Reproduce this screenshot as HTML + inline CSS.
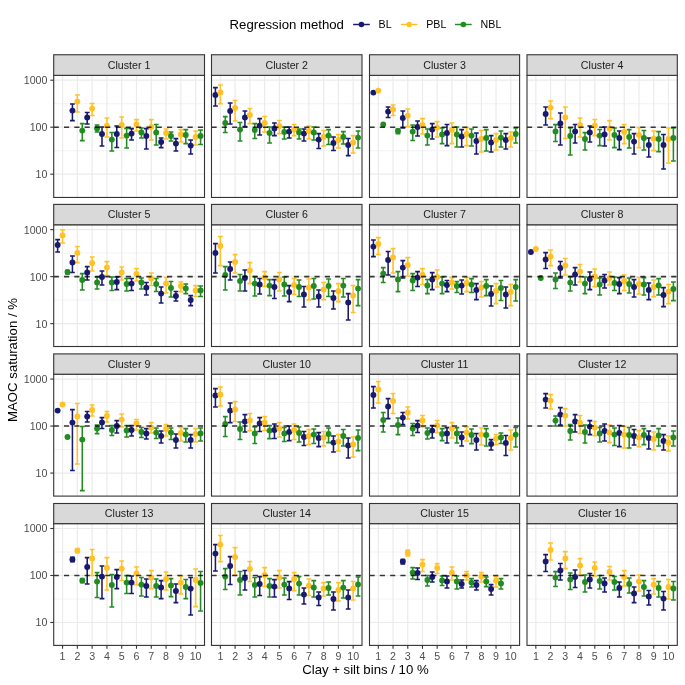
<!DOCTYPE html>
<html><head><meta charset="utf-8"><title>MAOC saturation</title>
<style>html,body{margin:0;padding:0;background:#fff;width:685px;height:685px;overflow:hidden}svg{display:block;will-change:transform}</style>
</head><body>
<svg width="685" height="685" viewBox="0 0 685 685" font-family="Liberation Sans, sans-serif">
<rect width="685" height="685" fill="#ffffff"/>
<line x1="53.7" x2="204.5" y1="150.7" y2="150.7" stroke="#EBEBEB" stroke-width="0.6"/><line x1="53.7" x2="204.5" y1="103.7" y2="103.7" stroke="#EBEBEB" stroke-width="0.6"/><line x1="53.7" x2="204.5" y1="174.2" y2="174.2" stroke="#EBEBEB" stroke-width="1.2"/><line x1="53.7" x2="204.5" y1="127.2" y2="127.2" stroke="#EBEBEB" stroke-width="1.2"/><line x1="53.7" x2="204.5" y1="80.2" y2="80.2" stroke="#EBEBEB" stroke-width="1.2"/><line x1="62.57" x2="62.57" y1="75.35" y2="197.45" stroke="#EBEBEB" stroke-width="1.2"/><line x1="77.35" x2="77.35" y1="75.35" y2="197.45" stroke="#EBEBEB" stroke-width="1.2"/><line x1="92.14" x2="92.14" y1="75.35" y2="197.45" stroke="#EBEBEB" stroke-width="1.2"/><line x1="106.92" x2="106.92" y1="75.35" y2="197.45" stroke="#EBEBEB" stroke-width="1.2"/><line x1="121.71" x2="121.71" y1="75.35" y2="197.45" stroke="#EBEBEB" stroke-width="1.2"/><line x1="136.49" x2="136.49" y1="75.35" y2="197.45" stroke="#EBEBEB" stroke-width="1.2"/><line x1="151.28" x2="151.28" y1="75.35" y2="197.45" stroke="#EBEBEB" stroke-width="1.2"/><line x1="166.06" x2="166.06" y1="75.35" y2="197.45" stroke="#EBEBEB" stroke-width="1.2"/><line x1="180.85" x2="180.85" y1="75.35" y2="197.45" stroke="#EBEBEB" stroke-width="1.2"/><line x1="195.63" x2="195.63" y1="75.35" y2="197.45" stroke="#EBEBEB" stroke-width="1.2"/>
<g fill="none" stroke-width="1.55"><path d="M70.02 104H74.82M72.42 104V120.6M70.02 120.6H74.82" stroke="#191970"/><path d="M74.95 95H79.75M77.35 95V112M74.95 112H79.75" stroke="#FFC125"/><path d="M79.88 123.6H84.68M82.28 123.6V140.6M79.88 140.6H84.68" stroke="#228B22"/><path d="M84.81 112.4H89.61M87.21 112.4V124M84.81 124H89.61" stroke="#191970"/><path d="M89.74 103.4H94.54M92.14 103.4V115.4M89.74 115.4H94.54" stroke="#FFC125"/><path d="M94.67 125H99.47M97.07 125V132M94.67 132H99.47" stroke="#228B22"/><path d="M99.59 127H104.39M101.99 127V146M99.59 146H104.39" stroke="#191970"/><path d="M104.52 118H109.32M106.92 118V137M104.52 137H109.32" stroke="#FFC125"/><path d="M109.45 132.4H114.25M111.85 132.4V151M109.45 151H114.25" stroke="#228B22"/><path d="M114.38 126H119.18M116.78 126V147.4M114.38 147.4H119.18" stroke="#191970"/><path d="M119.31 117H124.11M121.71 117V138M119.31 138H124.11" stroke="#FFC125"/><path d="M124.24 128.4H129.04M126.64 128.4V148M124.24 148H129.04" stroke="#228B22"/><path d="M129.16 128.6H133.96M131.56 128.6V140M129.16 140H133.96" stroke="#191970"/><path d="M134.09 119.6H138.89M136.49 119.6V131M134.09 131H138.89" stroke="#FFC125"/><path d="M139.02 128H143.82M141.42 128V138M139.02 138H143.82" stroke="#228B22"/><path d="M143.95 128.6H148.75M146.35 128.6V149M143.95 149H148.75" stroke="#191970"/><path d="M148.88 119.6H153.68M151.28 119.6V140M148.88 140H153.68" stroke="#FFC125"/><path d="M153.81 124.4H158.61M156.21 124.4V145M153.81 145H158.61" stroke="#228B22"/><path d="M158.73 138H163.53M161.13 138V147.6M158.73 147.6H163.53" stroke="#191970"/><path d="M163.66 129H168.46M166.06 129V139M163.66 139H168.46" stroke="#FFC125"/><path d="M168.59 132H173.39M170.99 132V141M168.59 141H173.39" stroke="#228B22"/><path d="M173.52 138.6H178.32M175.92 138.6V151M173.52 151H178.32" stroke="#191970"/><path d="M178.45 129.6H183.25M180.85 129.6V142M178.45 142H183.25" stroke="#FFC125"/><path d="M183.38 129.6H188.18M185.78 129.6V143.6M183.38 143.6H188.18" stroke="#228B22"/><path d="M188.3 140H193.1M190.7 140V154M188.3 154H193.1" stroke="#191970"/><path d="M193.23 131H198.03M195.63 131V145M193.23 145H198.03" stroke="#FFC125"/><path d="M198.16 130H202.96M200.56 130V144.4M198.16 144.4H202.96" stroke="#228B22"/></g>
<g><circle cx="72.42" cy="110.6" r="2.95" fill="#191970"/><circle cx="77.35" cy="101.6" r="2.95" fill="#FFC125"/><circle cx="82.28" cy="130.6" r="2.95" fill="#228B22"/><circle cx="87.21" cy="117.4" r="2.95" fill="#191970"/><circle cx="92.14" cy="108.6" r="2.95" fill="#FFC125"/><circle cx="97.07" cy="128.4" r="2.95" fill="#228B22"/><circle cx="101.99" cy="134" r="2.95" fill="#191970"/><circle cx="106.92" cy="125.6" r="2.95" fill="#FFC125"/><circle cx="111.85" cy="139.6" r="2.95" fill="#228B22"/><circle cx="116.78" cy="134" r="2.95" fill="#191970"/><circle cx="121.71" cy="125" r="2.95" fill="#FFC125"/><circle cx="126.64" cy="135.6" r="2.95" fill="#228B22"/><circle cx="131.56" cy="133.6" r="2.95" fill="#191970"/><circle cx="136.49" cy="124.4" r="2.95" fill="#FFC125"/><circle cx="141.42" cy="132.4" r="2.95" fill="#228B22"/><circle cx="146.35" cy="136" r="2.95" fill="#191970"/><circle cx="151.28" cy="127" r="2.95" fill="#FFC125"/><circle cx="156.21" cy="132.4" r="2.95" fill="#228B22"/><circle cx="161.13" cy="142" r="2.95" fill="#191970"/><circle cx="166.06" cy="133" r="2.95" fill="#FFC125"/><circle cx="170.99" cy="136" r="2.95" fill="#228B22"/><circle cx="175.92" cy="143.6" r="2.95" fill="#191970"/><circle cx="180.85" cy="134.4" r="2.95" fill="#FFC125"/><circle cx="185.78" cy="135" r="2.95" fill="#228B22"/><circle cx="190.7" cy="145.6" r="2.95" fill="#191970"/><circle cx="195.63" cy="137" r="2.95" fill="#FFC125"/><circle cx="200.56" cy="136" r="2.95" fill="#228B22"/></g>
<line x1="53.7" x2="204.5" y1="127.2" y2="127.2" stroke="#000000" stroke-opacity="0.78" stroke-width="1.55" stroke-dasharray="5.15 5.15"/>
<rect x="53.7" y="75.35" width="150.8" height="122.1" fill="none" stroke="#333333" stroke-width="1.1"/>
<rect x="53.7" y="54.75" width="150.8" height="20.6" fill="#D9D9D9" stroke="#333333" stroke-width="1.1"/>
<text x="129.1" y="68.95" font-size="10.65" fill="#1A1A1A" text-anchor="middle">Cluster 1</text>
<line x1="50.3" x2="53.7" y1="174.2" y2="174.2" stroke="#333333" stroke-width="1.1"/>
<text x="47.4" y="178.2" font-size="10.65" fill="#4D4D4D" text-anchor="end">10</text>
<line x1="50.3" x2="53.7" y1="127.2" y2="127.2" stroke="#333333" stroke-width="1.1"/>
<text x="47.4" y="131.2" font-size="10.65" fill="#4D4D4D" text-anchor="end">100</text>
<line x1="50.3" x2="53.7" y1="80.2" y2="80.2" stroke="#333333" stroke-width="1.1"/>
<text x="47.4" y="84.2" font-size="10.65" fill="#4D4D4D" text-anchor="end">1000</text>
<line x1="211.5" x2="362" y1="150.7" y2="150.7" stroke="#EBEBEB" stroke-width="0.6"/><line x1="211.5" x2="362" y1="103.7" y2="103.7" stroke="#EBEBEB" stroke-width="0.6"/><line x1="211.5" x2="362" y1="174.2" y2="174.2" stroke="#EBEBEB" stroke-width="1.2"/><line x1="211.5" x2="362" y1="127.2" y2="127.2" stroke="#EBEBEB" stroke-width="1.2"/><line x1="211.5" x2="362" y1="80.2" y2="80.2" stroke="#EBEBEB" stroke-width="1.2"/><line x1="220.35" x2="220.35" y1="75.35" y2="197.45" stroke="#EBEBEB" stroke-width="1.2"/><line x1="235.11" x2="235.11" y1="75.35" y2="197.45" stroke="#EBEBEB" stroke-width="1.2"/><line x1="249.86" x2="249.86" y1="75.35" y2="197.45" stroke="#EBEBEB" stroke-width="1.2"/><line x1="264.62" x2="264.62" y1="75.35" y2="197.45" stroke="#EBEBEB" stroke-width="1.2"/><line x1="279.37" x2="279.37" y1="75.35" y2="197.45" stroke="#EBEBEB" stroke-width="1.2"/><line x1="294.13" x2="294.13" y1="75.35" y2="197.45" stroke="#EBEBEB" stroke-width="1.2"/><line x1="308.88" x2="308.88" y1="75.35" y2="197.45" stroke="#EBEBEB" stroke-width="1.2"/><line x1="323.64" x2="323.64" y1="75.35" y2="197.45" stroke="#EBEBEB" stroke-width="1.2"/><line x1="338.39" x2="338.39" y1="75.35" y2="197.45" stroke="#EBEBEB" stroke-width="1.2"/><line x1="353.15" x2="353.15" y1="75.35" y2="197.45" stroke="#EBEBEB" stroke-width="1.2"/>
<g fill="none" stroke-width="1.55"><path d="M213.02 87.6H217.82M215.42 87.6V106M213.02 106H217.82" stroke="#191970"/><path d="M217.95 85H222.75M220.35 85V103.6M217.95 103.6H222.75" stroke="#FFC125"/><path d="M222.88 116.6H227.68M225.28 116.6V132.4M222.88 132.4H227.68" stroke="#228B22"/><path d="M227.78 103H232.58M230.18 103V124M227.78 124H232.58" stroke="#191970"/><path d="M232.71 100.4H237.51M235.11 100.4V121M232.71 121H237.51" stroke="#FFC125"/><path d="M237.64 122.4H242.44M240.04 122.4V141M237.64 141H242.44" stroke="#228B22"/><path d="M242.53 111H247.33M244.93 111V126.4M242.53 126.4H247.33" stroke="#191970"/><path d="M247.46 108.4H252.26M249.86 108.4V123.6M247.46 123.6H252.26" stroke="#FFC125"/><path d="M252.39 123.6H257.19M254.79 123.6V138.4M252.39 138.4H257.19" stroke="#228B22"/><path d="M257.29 118.6H262.09M259.69 118.6V135M257.29 135H262.09" stroke="#191970"/><path d="M262.22 116.4H267.02M264.62 116.4V132M262.22 132H267.02" stroke="#FFC125"/><path d="M267.15 127H271.95M269.55 127V143M267.15 143H271.95" stroke="#228B22"/><path d="M272.04 123H276.84M274.44 123V135.6M272.04 135.6H276.84" stroke="#191970"/><path d="M276.97 120.4H281.77M279.37 120.4V133.6M276.97 133.6H281.77" stroke="#FFC125"/><path d="M281.9 127H286.7M284.3 127V139M281.9 139H286.7" stroke="#228B22"/><path d="M286.8 127H291.6M289.2 127V138M286.8 138H291.6" stroke="#191970"/><path d="M291.73 124.4H296.53M294.13 124.4V135.6M291.73 135.6H296.53" stroke="#FFC125"/><path d="M296.66 129H301.46M299.06 129V139M296.66 139H301.46" stroke="#228B22"/><path d="M301.55 129H306.35M303.95 129V141M301.55 141H306.35" stroke="#191970"/><path d="M306.48 126H311.28M308.88 126V139M306.48 139H311.28" stroke="#FFC125"/><path d="M311.41 127H316.21M313.81 127V140M311.41 140H316.21" stroke="#228B22"/><path d="M316.31 133.6H321.11M318.71 133.6V148.4M316.31 148.4H321.11" stroke="#191970"/><path d="M321.24 130.4H326.04M323.64 130.4V146M321.24 146H326.04" stroke="#FFC125"/><path d="M326.17 129.6H330.97M328.57 129.6V144.4M326.17 144.4H330.97" stroke="#228B22"/><path d="M331.06 137H335.86M333.46 137V150.4M331.06 150.4H335.86" stroke="#191970"/><path d="M335.99 134.4H340.79M338.39 134.4V148M335.99 148H340.79" stroke="#FFC125"/><path d="M340.92 131.6H345.72M343.32 131.6V144M340.92 144H345.72" stroke="#228B22"/><path d="M345.82 138.4H350.62M348.22 138.4V155.6M345.82 155.6H350.62" stroke="#191970"/><path d="M350.75 135.6H355.55M353.15 135.6V153M350.75 153H355.55" stroke="#FFC125"/><path d="M355.68 131H360.48M358.08 131V148M355.68 148H360.48" stroke="#228B22"/></g>
<g><circle cx="215.42" cy="95" r="2.95" fill="#191970"/><circle cx="220.35" cy="92.4" r="2.95" fill="#FFC125"/><circle cx="225.28" cy="123" r="2.95" fill="#228B22"/><circle cx="230.18" cy="111" r="2.95" fill="#191970"/><circle cx="235.11" cy="108" r="2.95" fill="#FFC125"/><circle cx="240.04" cy="129.6" r="2.95" fill="#228B22"/><circle cx="244.93" cy="117.4" r="2.95" fill="#191970"/><circle cx="249.86" cy="115" r="2.95" fill="#FFC125"/><circle cx="254.79" cy="130" r="2.95" fill="#228B22"/><circle cx="259.69" cy="125.6" r="2.95" fill="#191970"/><circle cx="264.62" cy="123" r="2.95" fill="#FFC125"/><circle cx="269.55" cy="133" r="2.95" fill="#228B22"/><circle cx="274.44" cy="128.4" r="2.95" fill="#191970"/><circle cx="279.37" cy="126" r="2.95" fill="#FFC125"/><circle cx="284.3" cy="132" r="2.95" fill="#228B22"/><circle cx="289.2" cy="131.6" r="2.95" fill="#191970"/><circle cx="294.13" cy="129.6" r="2.95" fill="#FFC125"/><circle cx="299.06" cy="132.4" r="2.95" fill="#228B22"/><circle cx="303.95" cy="133.6" r="2.95" fill="#191970"/><circle cx="308.88" cy="131" r="2.95" fill="#FFC125"/><circle cx="313.81" cy="132.4" r="2.95" fill="#228B22"/><circle cx="318.71" cy="139.6" r="2.95" fill="#191970"/><circle cx="323.64" cy="137" r="2.95" fill="#FFC125"/><circle cx="328.57" cy="135.6" r="2.95" fill="#228B22"/><circle cx="333.46" cy="143" r="2.95" fill="#191970"/><circle cx="338.39" cy="140" r="2.95" fill="#FFC125"/><circle cx="343.32" cy="137" r="2.95" fill="#228B22"/><circle cx="348.22" cy="145" r="2.95" fill="#191970"/><circle cx="353.15" cy="142.4" r="2.95" fill="#FFC125"/><circle cx="358.08" cy="137.6" r="2.95" fill="#228B22"/></g>
<line x1="211.5" x2="362" y1="127.2" y2="127.2" stroke="#000000" stroke-opacity="0.78" stroke-width="1.55" stroke-dasharray="5.15 5.15"/>
<rect x="211.5" y="75.35" width="150.5" height="122.1" fill="none" stroke="#333333" stroke-width="1.1"/>
<rect x="211.5" y="54.75" width="150.5" height="20.6" fill="#D9D9D9" stroke="#333333" stroke-width="1.1"/>
<text x="286.75" y="68.95" font-size="10.65" fill="#1A1A1A" text-anchor="middle">Cluster 2</text>
<line x1="369.5" x2="519.6" y1="150.7" y2="150.7" stroke="#EBEBEB" stroke-width="0.6"/><line x1="369.5" x2="519.6" y1="103.7" y2="103.7" stroke="#EBEBEB" stroke-width="0.6"/><line x1="369.5" x2="519.6" y1="174.2" y2="174.2" stroke="#EBEBEB" stroke-width="1.2"/><line x1="369.5" x2="519.6" y1="127.2" y2="127.2" stroke="#EBEBEB" stroke-width="1.2"/><line x1="369.5" x2="519.6" y1="80.2" y2="80.2" stroke="#EBEBEB" stroke-width="1.2"/><line x1="378.33" x2="378.33" y1="75.35" y2="197.45" stroke="#EBEBEB" stroke-width="1.2"/><line x1="393.05" x2="393.05" y1="75.35" y2="197.45" stroke="#EBEBEB" stroke-width="1.2"/><line x1="407.76" x2="407.76" y1="75.35" y2="197.45" stroke="#EBEBEB" stroke-width="1.2"/><line x1="422.48" x2="422.48" y1="75.35" y2="197.45" stroke="#EBEBEB" stroke-width="1.2"/><line x1="437.19" x2="437.19" y1="75.35" y2="197.45" stroke="#EBEBEB" stroke-width="1.2"/><line x1="451.91" x2="451.91" y1="75.35" y2="197.45" stroke="#EBEBEB" stroke-width="1.2"/><line x1="466.62" x2="466.62" y1="75.35" y2="197.45" stroke="#EBEBEB" stroke-width="1.2"/><line x1="481.34" x2="481.34" y1="75.35" y2="197.45" stroke="#EBEBEB" stroke-width="1.2"/><line x1="496.05" x2="496.05" y1="75.35" y2="197.45" stroke="#EBEBEB" stroke-width="1.2"/><line x1="510.77" x2="510.77" y1="75.35" y2="197.45" stroke="#EBEBEB" stroke-width="1.2"/>
<g fill="none" stroke-width="1.55"><path d="M385.72 107H390.52M388.12 107V117.4M385.72 117.4H390.52" stroke="#191970"/><path d="M390.65 105H395.45M393.05 105V115.4M390.65 115.4H395.45" stroke="#FFC125"/><path d="M395.58 129H400.38M397.98 129V133.6M395.58 133.6H400.38" stroke="#228B22"/><path d="M400.43 111H405.23M402.83 111V128M400.43 128H405.23" stroke="#191970"/><path d="M405.36 109H410.16M407.76 109V126.6M405.36 126.6H410.16" stroke="#FFC125"/><path d="M410.29 125H415.09M412.69 125V140.4M410.29 140.4H415.09" stroke="#228B22"/><path d="M415.15 121H419.95M417.55 121V136M415.15 136H419.95" stroke="#191970"/><path d="M420.08 118.6H424.88M422.48 118.6V134M420.08 134H424.88" stroke="#FFC125"/><path d="M425.01 129H429.81M427.41 129V145M425.01 145H429.81" stroke="#228B22"/><path d="M429.86 123.6H434.66M432.26 123.6V139M429.86 139H434.66" stroke="#191970"/><path d="M434.79 121.6H439.59M437.19 121.6V137M434.79 137H439.59" stroke="#FFC125"/><path d="M439.72 128H444.52M442.12 128V143.6M439.72 143.6H444.52" stroke="#228B22"/><path d="M444.58 124.4H449.38M446.98 124.4V145.6M444.58 145.6H449.38" stroke="#191970"/><path d="M449.51 123H454.31M451.91 123V143.6M449.51 143.6H454.31" stroke="#FFC125"/><path d="M454.44 127H459.24M456.84 127V147M454.44 147H459.24" stroke="#228B22"/><path d="M459.29 129.6H464.09M461.69 129.6V147M459.29 147H464.09" stroke="#191970"/><path d="M464.22 127.6H469.02M466.62 127.6V145.6M464.22 145.6H469.02" stroke="#FFC125"/><path d="M469.15 129H473.95M471.55 129V146M469.15 146H473.95" stroke="#228B22"/><path d="M474.01 133H478.81M476.41 133V154M474.01 154H478.81" stroke="#191970"/><path d="M478.94 130.4H483.74M481.34 130.4V152M478.94 152H483.74" stroke="#FFC125"/><path d="M483.87 129.6H488.67M486.27 129.6V151M483.87 151H488.67" stroke="#228B22"/><path d="M488.72 135.6H493.52M491.12 135.6V152M488.72 152H493.52" stroke="#191970"/><path d="M493.65 133.6H498.45M496.05 133.6V150M493.65 150H498.45" stroke="#FFC125"/><path d="M498.58 131H503.38M500.98 131V147M498.58 147H503.38" stroke="#228B22"/><path d="M503.44 133.6H508.24M505.84 133.6V149M503.44 149H508.24" stroke="#191970"/><path d="M508.37 132H513.17M510.77 132V147M508.37 147H513.17" stroke="#FFC125"/><path d="M513.3 128H518.1M515.7 128V143M513.3 143H518.1" stroke="#228B22"/></g>
<g><circle cx="373.4" cy="92.6" r="2.95" fill="#191970"/><circle cx="378.33" cy="90.6" r="2.95" fill="#FFC125"/><circle cx="383.26" cy="124.4" r="2.95" fill="#228B22"/><circle cx="388.12" cy="111.6" r="2.95" fill="#191970"/><circle cx="393.05" cy="109.4" r="2.95" fill="#FFC125"/><circle cx="397.98" cy="131" r="2.95" fill="#228B22"/><circle cx="402.83" cy="118" r="2.95" fill="#191970"/><circle cx="407.76" cy="115.6" r="2.95" fill="#FFC125"/><circle cx="412.69" cy="131.6" r="2.95" fill="#228B22"/><circle cx="417.55" cy="127" r="2.95" fill="#191970"/><circle cx="422.48" cy="125" r="2.95" fill="#FFC125"/><circle cx="427.41" cy="135.6" r="2.95" fill="#228B22"/><circle cx="432.26" cy="129.6" r="2.95" fill="#191970"/><circle cx="437.19" cy="127.6" r="2.95" fill="#FFC125"/><circle cx="442.12" cy="134.4" r="2.95" fill="#228B22"/><circle cx="446.98" cy="133" r="2.95" fill="#191970"/><circle cx="451.91" cy="130" r="2.95" fill="#FFC125"/><circle cx="456.84" cy="134.4" r="2.95" fill="#228B22"/><circle cx="461.69" cy="136.4" r="2.95" fill="#191970"/><circle cx="466.62" cy="134" r="2.95" fill="#FFC125"/><circle cx="471.55" cy="135.6" r="2.95" fill="#228B22"/><circle cx="476.41" cy="141" r="2.95" fill="#191970"/><circle cx="481.34" cy="139" r="2.95" fill="#FFC125"/><circle cx="486.27" cy="138" r="2.95" fill="#228B22"/><circle cx="491.12" cy="142.4" r="2.95" fill="#191970"/><circle cx="496.05" cy="140" r="2.95" fill="#FFC125"/><circle cx="500.98" cy="137.6" r="2.95" fill="#228B22"/><circle cx="505.84" cy="140" r="2.95" fill="#191970"/><circle cx="510.77" cy="138" r="2.95" fill="#FFC125"/><circle cx="515.7" cy="134" r="2.95" fill="#228B22"/></g>
<line x1="369.5" x2="519.6" y1="127.2" y2="127.2" stroke="#000000" stroke-opacity="0.78" stroke-width="1.55" stroke-dasharray="5.15 5.15"/>
<rect x="369.5" y="75.35" width="150.1" height="122.1" fill="none" stroke="#333333" stroke-width="1.1"/>
<rect x="369.5" y="54.75" width="150.1" height="20.6" fill="#D9D9D9" stroke="#333333" stroke-width="1.1"/>
<text x="444.55" y="68.95" font-size="10.65" fill="#1A1A1A" text-anchor="middle">Cluster 3</text>
<line x1="527" x2="677.3" y1="150.7" y2="150.7" stroke="#EBEBEB" stroke-width="0.6"/><line x1="527" x2="677.3" y1="103.7" y2="103.7" stroke="#EBEBEB" stroke-width="0.6"/><line x1="527" x2="677.3" y1="174.2" y2="174.2" stroke="#EBEBEB" stroke-width="1.2"/><line x1="527" x2="677.3" y1="127.2" y2="127.2" stroke="#EBEBEB" stroke-width="1.2"/><line x1="527" x2="677.3" y1="80.2" y2="80.2" stroke="#EBEBEB" stroke-width="1.2"/><line x1="535.84" x2="535.84" y1="75.35" y2="197.45" stroke="#EBEBEB" stroke-width="1.2"/><line x1="550.58" x2="550.58" y1="75.35" y2="197.45" stroke="#EBEBEB" stroke-width="1.2"/><line x1="565.31" x2="565.31" y1="75.35" y2="197.45" stroke="#EBEBEB" stroke-width="1.2"/><line x1="580.05" x2="580.05" y1="75.35" y2="197.45" stroke="#EBEBEB" stroke-width="1.2"/><line x1="594.78" x2="594.78" y1="75.35" y2="197.45" stroke="#EBEBEB" stroke-width="1.2"/><line x1="609.52" x2="609.52" y1="75.35" y2="197.45" stroke="#EBEBEB" stroke-width="1.2"/><line x1="624.25" x2="624.25" y1="75.35" y2="197.45" stroke="#EBEBEB" stroke-width="1.2"/><line x1="638.99" x2="638.99" y1="75.35" y2="197.45" stroke="#EBEBEB" stroke-width="1.2"/><line x1="653.72" x2="653.72" y1="75.35" y2="197.45" stroke="#EBEBEB" stroke-width="1.2"/><line x1="668.46" x2="668.46" y1="75.35" y2="197.45" stroke="#EBEBEB" stroke-width="1.2"/>
<g fill="none" stroke-width="1.55"><path d="M543.25 107H548.05M545.65 107V125M543.25 125H548.05" stroke="#191970"/><path d="M548.18 101H552.98M550.58 101V118.6M548.18 118.6H552.98" stroke="#FFC125"/><path d="M553.11 124.6H557.91M555.51 124.6V141.4M553.11 141.4H557.91" stroke="#228B22"/><path d="M557.98 113H562.78M560.38 113V145M557.98 145H562.78" stroke="#191970"/><path d="M562.91 107H567.71M565.31 107V138.4M562.91 138.4H567.71" stroke="#FFC125"/><path d="M567.84 128H572.64M570.24 128V155M567.84 155H572.64" stroke="#228B22"/><path d="M572.72 124.4H577.52M575.12 124.4V143M572.72 143H577.52" stroke="#191970"/><path d="M577.65 118H582.45M580.05 118V137M577.65 137H582.45" stroke="#FFC125"/><path d="M582.58 132.6H587.38M584.98 132.6V150M582.58 150H587.38" stroke="#228B22"/><path d="M587.45 126H592.25M589.85 126V142M587.45 142H592.25" stroke="#191970"/><path d="M592.38 119.4H597.18M594.78 119.4V135.6M592.38 135.6H597.18" stroke="#FFC125"/><path d="M597.31 129.4H602.11M599.71 129.4V145.6M597.31 145.6H602.11" stroke="#228B22"/><path d="M602.19 127H606.99M604.59 127V146M602.19 146H606.99" stroke="#191970"/><path d="M607.12 120.6H611.92M609.52 120.6V140M607.12 140H611.92" stroke="#FFC125"/><path d="M612.05 128H616.85M614.45 128V147.6M612.05 147.6H616.85" stroke="#228B22"/><path d="M616.92 131H621.72M619.32 131V149.6M616.92 149.6H621.72" stroke="#191970"/><path d="M621.85 124.6H626.65M624.25 124.6V143.6M621.85 143.6H626.65" stroke="#FFC125"/><path d="M626.78 129.6H631.58M629.18 129.6V148M626.78 148H631.58" stroke="#228B22"/><path d="M631.66 133.6H636.46M634.06 133.6V154M631.66 154H636.46" stroke="#191970"/><path d="M636.59 127.6H641.39M638.99 127.6V147.6M636.59 147.6H641.39" stroke="#FFC125"/><path d="M641.52 130.4H646.32M643.92 130.4V150M641.52 150H646.32" stroke="#228B22"/><path d="M646.39 138H651.19M648.79 138V157M646.39 157H651.19" stroke="#191970"/><path d="M651.32 131H656.12M653.72 131V150.6M651.32 150.6H656.12" stroke="#FFC125"/><path d="M656.25 131.6H661.05M658.65 131.6V151.6M656.25 151.6H661.05" stroke="#228B22"/><path d="M661.13 134.4H665.93M663.53 134.4V169M661.13 169H665.93" stroke="#191970"/><path d="M666.06 128H670.86M668.46 128V163M666.06 163H670.86" stroke="#FFC125"/><path d="M670.99 128H675.79M673.39 128V161M670.99 161H675.79" stroke="#228B22"/></g>
<g><circle cx="545.65" cy="114" r="2.95" fill="#191970"/><circle cx="550.58" cy="107.6" r="2.95" fill="#FFC125"/><circle cx="555.51" cy="131.4" r="2.95" fill="#228B22"/><circle cx="560.38" cy="123.4" r="2.95" fill="#191970"/><circle cx="565.31" cy="117.4" r="2.95" fill="#FFC125"/><circle cx="570.24" cy="136" r="2.95" fill="#228B22"/><circle cx="575.12" cy="131.4" r="2.95" fill="#191970"/><circle cx="580.05" cy="125" r="2.95" fill="#FFC125"/><circle cx="584.98" cy="139" r="2.95" fill="#228B22"/><circle cx="589.85" cy="132.4" r="2.95" fill="#191970"/><circle cx="594.78" cy="125.6" r="2.95" fill="#FFC125"/><circle cx="599.71" cy="135.6" r="2.95" fill="#228B22"/><circle cx="604.59" cy="134.4" r="2.95" fill="#191970"/><circle cx="609.52" cy="128.4" r="2.95" fill="#FFC125"/><circle cx="614.45" cy="135" r="2.95" fill="#228B22"/><circle cx="619.32" cy="138" r="2.95" fill="#191970"/><circle cx="624.25" cy="132" r="2.95" fill="#FFC125"/><circle cx="629.18" cy="137" r="2.95" fill="#228B22"/><circle cx="634.06" cy="141.6" r="2.95" fill="#191970"/><circle cx="638.99" cy="135" r="2.95" fill="#FFC125"/><circle cx="643.92" cy="138" r="2.95" fill="#228B22"/><circle cx="648.79" cy="145" r="2.95" fill="#191970"/><circle cx="653.72" cy="138.6" r="2.95" fill="#FFC125"/><circle cx="658.65" cy="139" r="2.95" fill="#228B22"/><circle cx="663.53" cy="145" r="2.95" fill="#191970"/><circle cx="668.46" cy="139" r="2.95" fill="#FFC125"/><circle cx="673.39" cy="138" r="2.95" fill="#228B22"/></g>
<line x1="527" x2="677.3" y1="127.2" y2="127.2" stroke="#000000" stroke-opacity="0.78" stroke-width="1.55" stroke-dasharray="5.15 5.15"/>
<rect x="527" y="75.35" width="150.3" height="122.1" fill="none" stroke="#333333" stroke-width="1.1"/>
<rect x="527" y="54.75" width="150.3" height="20.6" fill="#D9D9D9" stroke="#333333" stroke-width="1.1"/>
<text x="602.15" y="68.95" font-size="10.65" fill="#1A1A1A" text-anchor="middle">Cluster 4</text>
<line x1="53.7" x2="204.5" y1="300.13" y2="300.13" stroke="#EBEBEB" stroke-width="0.6"/><line x1="53.7" x2="204.5" y1="253.13" y2="253.13" stroke="#EBEBEB" stroke-width="0.6"/><line x1="53.7" x2="204.5" y1="323.63" y2="323.63" stroke="#EBEBEB" stroke-width="1.2"/><line x1="53.7" x2="204.5" y1="276.63" y2="276.63" stroke="#EBEBEB" stroke-width="1.2"/><line x1="53.7" x2="204.5" y1="229.63" y2="229.63" stroke="#EBEBEB" stroke-width="1.2"/><line x1="62.57" x2="62.57" y1="224.78" y2="346.5" stroke="#EBEBEB" stroke-width="1.2"/><line x1="77.35" x2="77.35" y1="224.78" y2="346.5" stroke="#EBEBEB" stroke-width="1.2"/><line x1="92.14" x2="92.14" y1="224.78" y2="346.5" stroke="#EBEBEB" stroke-width="1.2"/><line x1="106.92" x2="106.92" y1="224.78" y2="346.5" stroke="#EBEBEB" stroke-width="1.2"/><line x1="121.71" x2="121.71" y1="224.78" y2="346.5" stroke="#EBEBEB" stroke-width="1.2"/><line x1="136.49" x2="136.49" y1="224.78" y2="346.5" stroke="#EBEBEB" stroke-width="1.2"/><line x1="151.28" x2="151.28" y1="224.78" y2="346.5" stroke="#EBEBEB" stroke-width="1.2"/><line x1="166.06" x2="166.06" y1="224.78" y2="346.5" stroke="#EBEBEB" stroke-width="1.2"/><line x1="180.85" x2="180.85" y1="224.78" y2="346.5" stroke="#EBEBEB" stroke-width="1.2"/><line x1="195.63" x2="195.63" y1="224.78" y2="346.5" stroke="#EBEBEB" stroke-width="1.2"/>
<g fill="none" stroke-width="1.55"><path d="M55.24 239.6H60.04M57.64 239.6V252M55.24 252H60.04" stroke="#191970"/><path d="M60.17 230H64.97M62.57 230V243M60.17 243H64.97" stroke="#FFC125"/><path d="M65.1 270.4H69.9M67.5 270.4V274M65.1 274H69.9" stroke="#228B22"/><path d="M70.02 256H74.82M72.42 256V272.4M70.02 272.4H74.82" stroke="#191970"/><path d="M74.95 246.4H79.75M77.35 246.4V262.6M74.95 262.6H79.75" stroke="#FFC125"/><path d="M79.88 273.6H84.68M82.28 273.6V290M79.88 290H84.68" stroke="#228B22"/><path d="M84.81 266.6H89.61M87.21 266.6V280M84.81 280H89.61" stroke="#191970"/><path d="M89.74 257H94.54M92.14 257V271M89.74 271H94.54" stroke="#FFC125"/><path d="M94.67 277H99.47M97.07 277V289M94.67 289H99.47" stroke="#228B22"/><path d="M99.59 271H104.39M101.99 271V285M99.59 285H104.39" stroke="#191970"/><path d="M104.52 261.6H109.32M106.92 261.6V275.4M104.52 275.4H109.32" stroke="#FFC125"/><path d="M109.45 277H114.25M111.85 277V290.4M109.45 290.4H114.25" stroke="#228B22"/><path d="M114.38 277H119.18M116.78 277V289.6M114.38 289.6H119.18" stroke="#191970"/><path d="M119.31 267H124.11M121.71 267V280M119.31 280H124.11" stroke="#FFC125"/><path d="M124.24 278.4H129.04M126.64 278.4V291M124.24 291H129.04" stroke="#228B22"/><path d="M129.16 278.4H133.96M131.56 278.4V290.4M129.16 290.4H133.96" stroke="#191970"/><path d="M134.09 268.4H138.89M136.49 268.4V281M134.09 281H138.89" stroke="#FFC125"/><path d="M139.02 278H143.82M141.42 278V289M139.02 289H143.82" stroke="#228B22"/><path d="M143.95 282.4H148.75M146.35 282.4V295M143.95 295H148.75" stroke="#191970"/><path d="M148.88 273H153.68M151.28 273V285.4M148.88 285.4H153.68" stroke="#FFC125"/><path d="M153.81 278.4H158.61M156.21 278.4V291.4M153.81 291.4H158.61" stroke="#228B22"/><path d="M158.73 287H163.53M161.13 287V303M158.73 303H163.53" stroke="#191970"/><path d="M163.66 277.4H168.46M166.06 277.4V293M163.66 293H168.46" stroke="#FFC125"/><path d="M168.59 281.4H173.39M170.99 281.4V297M168.59 297H173.39" stroke="#228B22"/><path d="M173.52 291.4H178.32M175.92 291.4V301M173.52 301H178.32" stroke="#191970"/><path d="M178.45 282H183.25M180.85 282V291.6M178.45 291.6H183.25" stroke="#FFC125"/><path d="M183.38 284H188.18M185.78 284V293.6M183.38 293.6H188.18" stroke="#228B22"/><path d="M188.3 295.6H193.1M190.7 295.6V305.6M188.3 305.6H193.1" stroke="#191970"/><path d="M193.23 285.6H198.03M195.63 285.6V296.4M193.23 296.4H198.03" stroke="#FFC125"/><path d="M198.16 286H202.96M200.56 286V296.4M198.16 296.4H202.96" stroke="#228B22"/></g>
<g><circle cx="57.64" cy="245" r="2.95" fill="#191970"/><circle cx="62.57" cy="235.4" r="2.95" fill="#FFC125"/><circle cx="67.5" cy="272" r="2.95" fill="#228B22"/><circle cx="72.42" cy="262.4" r="2.95" fill="#191970"/><circle cx="77.35" cy="253" r="2.95" fill="#FFC125"/><circle cx="82.28" cy="280" r="2.95" fill="#228B22"/><circle cx="87.21" cy="272.4" r="2.95" fill="#191970"/><circle cx="92.14" cy="263" r="2.95" fill="#FFC125"/><circle cx="97.07" cy="282.4" r="2.95" fill="#228B22"/><circle cx="101.99" cy="277" r="2.95" fill="#191970"/><circle cx="106.92" cy="267.4" r="2.95" fill="#FFC125"/><circle cx="111.85" cy="282.4" r="2.95" fill="#228B22"/><circle cx="116.78" cy="282" r="2.95" fill="#191970"/><circle cx="121.71" cy="272.4" r="2.95" fill="#FFC125"/><circle cx="126.64" cy="284" r="2.95" fill="#228B22"/><circle cx="131.56" cy="283.6" r="2.95" fill="#191970"/><circle cx="136.49" cy="274" r="2.95" fill="#FFC125"/><circle cx="141.42" cy="282.4" r="2.95" fill="#228B22"/><circle cx="146.35" cy="287.6" r="2.95" fill="#191970"/><circle cx="151.28" cy="278.4" r="2.95" fill="#FFC125"/><circle cx="156.21" cy="284" r="2.95" fill="#228B22"/><circle cx="161.13" cy="293.6" r="2.95" fill="#191970"/><circle cx="166.06" cy="283.6" r="2.95" fill="#FFC125"/><circle cx="170.99" cy="288" r="2.95" fill="#228B22"/><circle cx="175.92" cy="296" r="2.95" fill="#191970"/><circle cx="180.85" cy="286" r="2.95" fill="#FFC125"/><circle cx="185.78" cy="288.4" r="2.95" fill="#228B22"/><circle cx="190.7" cy="300" r="2.95" fill="#191970"/><circle cx="195.63" cy="290.4" r="2.95" fill="#FFC125"/><circle cx="200.56" cy="290.4" r="2.95" fill="#228B22"/></g>
<line x1="53.7" x2="204.5" y1="276.63" y2="276.63" stroke="#000000" stroke-opacity="0.78" stroke-width="1.55" stroke-dasharray="5.15 5.15"/>
<rect x="53.7" y="224.78" width="150.8" height="121.72" fill="none" stroke="#333333" stroke-width="1.1"/>
<rect x="53.7" y="204.4" width="150.8" height="20.38" fill="#D9D9D9" stroke="#333333" stroke-width="1.1"/>
<text x="129.1" y="218.38" font-size="10.65" fill="#1A1A1A" text-anchor="middle">Cluster 5</text>
<line x1="50.3" x2="53.7" y1="323.63" y2="323.63" stroke="#333333" stroke-width="1.1"/>
<text x="47.4" y="327.63" font-size="10.65" fill="#4D4D4D" text-anchor="end">10</text>
<line x1="50.3" x2="53.7" y1="276.63" y2="276.63" stroke="#333333" stroke-width="1.1"/>
<text x="47.4" y="280.63" font-size="10.65" fill="#4D4D4D" text-anchor="end">100</text>
<line x1="50.3" x2="53.7" y1="229.63" y2="229.63" stroke="#333333" stroke-width="1.1"/>
<text x="47.4" y="233.63" font-size="10.65" fill="#4D4D4D" text-anchor="end">1000</text>
<line x1="211.5" x2="362" y1="300.13" y2="300.13" stroke="#EBEBEB" stroke-width="0.6"/><line x1="211.5" x2="362" y1="253.13" y2="253.13" stroke="#EBEBEB" stroke-width="0.6"/><line x1="211.5" x2="362" y1="323.63" y2="323.63" stroke="#EBEBEB" stroke-width="1.2"/><line x1="211.5" x2="362" y1="276.63" y2="276.63" stroke="#EBEBEB" stroke-width="1.2"/><line x1="211.5" x2="362" y1="229.63" y2="229.63" stroke="#EBEBEB" stroke-width="1.2"/><line x1="220.35" x2="220.35" y1="224.78" y2="346.5" stroke="#EBEBEB" stroke-width="1.2"/><line x1="235.11" x2="235.11" y1="224.78" y2="346.5" stroke="#EBEBEB" stroke-width="1.2"/><line x1="249.86" x2="249.86" y1="224.78" y2="346.5" stroke="#EBEBEB" stroke-width="1.2"/><line x1="264.62" x2="264.62" y1="224.78" y2="346.5" stroke="#EBEBEB" stroke-width="1.2"/><line x1="279.37" x2="279.37" y1="224.78" y2="346.5" stroke="#EBEBEB" stroke-width="1.2"/><line x1="294.13" x2="294.13" y1="224.78" y2="346.5" stroke="#EBEBEB" stroke-width="1.2"/><line x1="308.88" x2="308.88" y1="224.78" y2="346.5" stroke="#EBEBEB" stroke-width="1.2"/><line x1="323.64" x2="323.64" y1="224.78" y2="346.5" stroke="#EBEBEB" stroke-width="1.2"/><line x1="338.39" x2="338.39" y1="224.78" y2="346.5" stroke="#EBEBEB" stroke-width="1.2"/><line x1="353.15" x2="353.15" y1="224.78" y2="346.5" stroke="#EBEBEB" stroke-width="1.2"/>
<g fill="none" stroke-width="1.55"><path d="M213.02 243.6H217.82M215.42 243.6V273M213.02 273H217.82" stroke="#191970"/><path d="M217.95 236.4H222.75M220.35 236.4V265.6M217.95 265.6H222.75" stroke="#FFC125"/><path d="M222.88 266.6H227.68M225.28 266.6V290M222.88 290H227.68" stroke="#228B22"/><path d="M227.78 262H232.58M230.18 262V280M227.78 280H232.58" stroke="#191970"/><path d="M232.71 254.6H237.51M235.11 254.6V273M232.71 273H237.51" stroke="#FFC125"/><path d="M237.64 274.4H242.44M240.04 274.4V291M237.64 291H242.44" stroke="#228B22"/><path d="M242.53 270H247.33M244.93 270V291M242.53 291H247.33" stroke="#191970"/><path d="M247.46 262.6H252.26M249.86 262.6V283.6M247.46 283.6H252.26" stroke="#FFC125"/><path d="M252.39 276.6H257.19M254.79 276.6V296M252.39 296H257.19" stroke="#228B22"/><path d="M257.29 278.4H262.09M259.69 278.4V294M257.29 294H262.09" stroke="#191970"/><path d="M262.22 271.6H267.02M264.62 271.6V286.4M262.22 286.4H267.02" stroke="#FFC125"/><path d="M267.15 279.6H271.95M269.55 279.6V295.6M267.15 295.6H271.95" stroke="#228B22"/><path d="M272.04 279.6H276.84M274.44 279.6V298.4M272.04 298.4H276.84" stroke="#191970"/><path d="M276.97 272.4H281.77M279.37 272.4V291M276.97 291H281.77" stroke="#FFC125"/><path d="M281.9 277H286.7M284.3 277V296M281.9 296H286.7" stroke="#228B22"/><path d="M286.8 285.6H291.6M289.2 285.6V301.6M286.8 301.6H291.6" stroke="#191970"/><path d="M291.73 278.4H296.53M294.13 278.4V294.4M291.73 294.4H296.53" stroke="#FFC125"/><path d="M296.66 280H301.46M299.06 280V296.4M296.66 296.4H301.46" stroke="#228B22"/><path d="M301.55 286.4H306.35M303.95 286.4V307M301.55 307H306.35" stroke="#191970"/><path d="M306.48 279H311.28M308.88 279V300M306.48 300H311.28" stroke="#FFC125"/><path d="M311.41 278.4H316.21M313.81 278.4V299M311.41 299H316.21" stroke="#228B22"/><path d="M316.31 290H321.11M318.71 290V307M316.31 307H321.11" stroke="#191970"/><path d="M321.24 282.4H326.04M323.64 282.4V299.6M321.24 299.6H326.04" stroke="#FFC125"/><path d="M326.17 279H330.97M328.57 279V296.4M326.17 296.4H330.97" stroke="#228B22"/><path d="M331.06 291H335.86M333.46 291V309M331.06 309H335.86" stroke="#191970"/><path d="M335.99 283.6H340.79M338.39 283.6V301.6M335.99 301.6H340.79" stroke="#FFC125"/><path d="M340.92 278.4H345.72M343.32 278.4V297M340.92 297H345.72" stroke="#228B22"/><path d="M345.82 293.6H350.62M348.22 293.6V320M345.82 320H350.62" stroke="#191970"/><path d="M350.75 285.6H355.55M353.15 285.6V312.4M350.75 312.4H355.55" stroke="#FFC125"/><path d="M355.68 279.6H360.48M358.08 279.6V305.6M355.68 305.6H360.48" stroke="#228B22"/></g>
<g><circle cx="215.42" cy="253" r="2.95" fill="#191970"/><circle cx="220.35" cy="246" r="2.95" fill="#FFC125"/><circle cx="225.28" cy="275" r="2.95" fill="#228B22"/><circle cx="230.18" cy="269" r="2.95" fill="#191970"/><circle cx="235.11" cy="262" r="2.95" fill="#FFC125"/><circle cx="240.04" cy="281" r="2.95" fill="#228B22"/><circle cx="244.93" cy="278" r="2.95" fill="#191970"/><circle cx="249.86" cy="270.4" r="2.95" fill="#FFC125"/><circle cx="254.79" cy="283.6" r="2.95" fill="#228B22"/><circle cx="259.69" cy="284.4" r="2.95" fill="#191970"/><circle cx="264.62" cy="277.4" r="2.95" fill="#FFC125"/><circle cx="269.55" cy="285.6" r="2.95" fill="#228B22"/><circle cx="274.44" cy="287" r="2.95" fill="#191970"/><circle cx="279.37" cy="279.6" r="2.95" fill="#FFC125"/><circle cx="284.3" cy="284.4" r="2.95" fill="#228B22"/><circle cx="289.2" cy="292" r="2.95" fill="#191970"/><circle cx="294.13" cy="285" r="2.95" fill="#FFC125"/><circle cx="299.06" cy="287" r="2.95" fill="#228B22"/><circle cx="303.95" cy="294.4" r="2.95" fill="#191970"/><circle cx="308.88" cy="287.6" r="2.95" fill="#FFC125"/><circle cx="313.81" cy="286" r="2.95" fill="#228B22"/><circle cx="318.71" cy="296.4" r="2.95" fill="#191970"/><circle cx="323.64" cy="289.6" r="2.95" fill="#FFC125"/><circle cx="328.57" cy="286" r="2.95" fill="#228B22"/><circle cx="333.46" cy="298" r="2.95" fill="#191970"/><circle cx="338.39" cy="291" r="2.95" fill="#FFC125"/><circle cx="343.32" cy="285.6" r="2.95" fill="#228B22"/><circle cx="348.22" cy="302.4" r="2.95" fill="#191970"/><circle cx="353.15" cy="295.6" r="2.95" fill="#FFC125"/><circle cx="358.08" cy="288.6" r="2.95" fill="#228B22"/></g>
<line x1="211.5" x2="362" y1="276.63" y2="276.63" stroke="#000000" stroke-opacity="0.78" stroke-width="1.55" stroke-dasharray="5.15 5.15"/>
<rect x="211.5" y="224.78" width="150.5" height="121.72" fill="none" stroke="#333333" stroke-width="1.1"/>
<rect x="211.5" y="204.4" width="150.5" height="20.38" fill="#D9D9D9" stroke="#333333" stroke-width="1.1"/>
<text x="286.75" y="218.38" font-size="10.65" fill="#1A1A1A" text-anchor="middle">Cluster 6</text>
<line x1="369.5" x2="519.6" y1="300.13" y2="300.13" stroke="#EBEBEB" stroke-width="0.6"/><line x1="369.5" x2="519.6" y1="253.13" y2="253.13" stroke="#EBEBEB" stroke-width="0.6"/><line x1="369.5" x2="519.6" y1="323.63" y2="323.63" stroke="#EBEBEB" stroke-width="1.2"/><line x1="369.5" x2="519.6" y1="276.63" y2="276.63" stroke="#EBEBEB" stroke-width="1.2"/><line x1="369.5" x2="519.6" y1="229.63" y2="229.63" stroke="#EBEBEB" stroke-width="1.2"/><line x1="378.33" x2="378.33" y1="224.78" y2="346.5" stroke="#EBEBEB" stroke-width="1.2"/><line x1="393.05" x2="393.05" y1="224.78" y2="346.5" stroke="#EBEBEB" stroke-width="1.2"/><line x1="407.76" x2="407.76" y1="224.78" y2="346.5" stroke="#EBEBEB" stroke-width="1.2"/><line x1="422.48" x2="422.48" y1="224.78" y2="346.5" stroke="#EBEBEB" stroke-width="1.2"/><line x1="437.19" x2="437.19" y1="224.78" y2="346.5" stroke="#EBEBEB" stroke-width="1.2"/><line x1="451.91" x2="451.91" y1="224.78" y2="346.5" stroke="#EBEBEB" stroke-width="1.2"/><line x1="466.62" x2="466.62" y1="224.78" y2="346.5" stroke="#EBEBEB" stroke-width="1.2"/><line x1="481.34" x2="481.34" y1="224.78" y2="346.5" stroke="#EBEBEB" stroke-width="1.2"/><line x1="496.05" x2="496.05" y1="224.78" y2="346.5" stroke="#EBEBEB" stroke-width="1.2"/><line x1="510.77" x2="510.77" y1="224.78" y2="346.5" stroke="#EBEBEB" stroke-width="1.2"/>
<g fill="none" stroke-width="1.55"><path d="M371 240H375.8M373.4 240V256.6M371 256.6H375.8" stroke="#191970"/><path d="M375.93 237.6H380.73M378.33 237.6V254.4M375.93 254.4H380.73" stroke="#FFC125"/><path d="M380.86 267.6H385.66M383.26 267.6V282.4M380.86 282.4H385.66" stroke="#228B22"/><path d="M385.72 251.4H390.52M388.12 251.4V275M385.72 275H390.52" stroke="#191970"/><path d="M390.65 248.6H395.45M393.05 248.6V273M390.65 273H395.45" stroke="#FFC125"/><path d="M395.58 271.6H400.38M397.98 271.6V291.6M395.58 291.6H400.38" stroke="#228B22"/><path d="M400.43 260.6H405.23M402.83 260.6V278M400.43 278H405.23" stroke="#191970"/><path d="M405.36 257.6H410.16M407.76 257.6V276M405.36 276H410.16" stroke="#FFC125"/><path d="M410.29 273.6H415.09M412.69 273.6V290.4M410.29 290.4H415.09" stroke="#228B22"/><path d="M415.15 271.6H419.95M417.55 271.6V286.4M415.15 286.4H419.95" stroke="#191970"/><path d="M420.08 268.6H424.88M422.48 268.6V284.4M420.08 284.4H424.88" stroke="#FFC125"/><path d="M425.01 279.4H429.81M427.41 279.4V293.6M425.01 293.6H429.81" stroke="#228B22"/><path d="M429.86 272.6H434.66M432.26 272.6V289.6M429.86 289.6H434.66" stroke="#191970"/><path d="M434.79 270H439.59M437.19 270V287M434.79 287H439.59" stroke="#FFC125"/><path d="M439.72 277H444.52M442.12 277V293.6M439.72 293.6H444.52" stroke="#228B22"/><path d="M444.58 280.4H449.38M446.98 280.4V291.6M444.58 291.6H449.38" stroke="#191970"/><path d="M449.51 277.6H454.31M451.91 277.6V289M449.51 289H454.31" stroke="#FFC125"/><path d="M454.44 281.6H459.24M456.84 281.6V292.4M454.44 292.4H459.24" stroke="#228B22"/><path d="M459.29 280H464.09M461.69 280V294M459.29 294H464.09" stroke="#191970"/><path d="M464.22 277.4H469.02M466.62 277.4V291.6M464.22 291.6H469.02" stroke="#FFC125"/><path d="M469.15 278.6H473.95M471.55 278.6V292.4M469.15 292.4H473.95" stroke="#228B22"/><path d="M474.01 283.6H478.81M476.41 283.6V299.6M474.01 299.6H478.81" stroke="#191970"/><path d="M478.94 281.4H483.74M481.34 281.4V297M478.94 297H483.74" stroke="#FFC125"/><path d="M483.87 279.6H488.67M486.27 279.6V295.6M483.87 295.6H488.67" stroke="#228B22"/><path d="M488.72 286H493.52M491.12 286V306M488.72 306H493.52" stroke="#191970"/><path d="M493.65 283.6H498.45M496.05 283.6V303.6M493.65 303.6H498.45" stroke="#FFC125"/><path d="M498.58 280.4H503.38M500.98 280.4V300.4M498.58 300.4H503.38" stroke="#228B22"/><path d="M503.44 287H508.24M505.84 287V308M503.44 308H508.24" stroke="#191970"/><path d="M508.37 284.4H513.17M510.77 284.4V305.6M508.37 305.6H513.17" stroke="#FFC125"/><path d="M513.3 279.6H518.1M515.7 279.6V301M513.3 301H518.1" stroke="#228B22"/></g>
<g><circle cx="373.4" cy="246.6" r="2.95" fill="#191970"/><circle cx="378.33" cy="244" r="2.95" fill="#FFC125"/><circle cx="383.26" cy="273.6" r="2.95" fill="#228B22"/><circle cx="388.12" cy="260" r="2.95" fill="#191970"/><circle cx="393.05" cy="257.4" r="2.95" fill="#FFC125"/><circle cx="397.98" cy="279.4" r="2.95" fill="#228B22"/><circle cx="402.83" cy="267.6" r="2.95" fill="#191970"/><circle cx="407.76" cy="265" r="2.95" fill="#FFC125"/><circle cx="412.69" cy="280.4" r="2.95" fill="#228B22"/><circle cx="417.55" cy="277.6" r="2.95" fill="#191970"/><circle cx="422.48" cy="274.6" r="2.95" fill="#FFC125"/><circle cx="427.41" cy="285.4" r="2.95" fill="#228B22"/><circle cx="432.26" cy="279.4" r="2.95" fill="#191970"/><circle cx="437.19" cy="277" r="2.95" fill="#FFC125"/><circle cx="442.12" cy="283.6" r="2.95" fill="#228B22"/><circle cx="446.98" cy="285" r="2.95" fill="#191970"/><circle cx="451.91" cy="282.4" r="2.95" fill="#FFC125"/><circle cx="456.84" cy="286" r="2.95" fill="#228B22"/><circle cx="461.69" cy="285.6" r="2.95" fill="#191970"/><circle cx="466.62" cy="283" r="2.95" fill="#FFC125"/><circle cx="471.55" cy="284.6" r="2.95" fill="#228B22"/><circle cx="476.41" cy="290" r="2.95" fill="#191970"/><circle cx="481.34" cy="287.6" r="2.95" fill="#FFC125"/><circle cx="486.27" cy="286" r="2.95" fill="#228B22"/><circle cx="491.12" cy="294" r="2.95" fill="#191970"/><circle cx="496.05" cy="291" r="2.95" fill="#FFC125"/><circle cx="500.98" cy="288" r="2.95" fill="#228B22"/><circle cx="505.84" cy="294.4" r="2.95" fill="#191970"/><circle cx="510.77" cy="292" r="2.95" fill="#FFC125"/><circle cx="515.7" cy="287" r="2.95" fill="#228B22"/></g>
<line x1="369.5" x2="519.6" y1="276.63" y2="276.63" stroke="#000000" stroke-opacity="0.78" stroke-width="1.55" stroke-dasharray="5.15 5.15"/>
<rect x="369.5" y="224.78" width="150.1" height="121.72" fill="none" stroke="#333333" stroke-width="1.1"/>
<rect x="369.5" y="204.4" width="150.1" height="20.38" fill="#D9D9D9" stroke="#333333" stroke-width="1.1"/>
<text x="444.55" y="218.38" font-size="10.65" fill="#1A1A1A" text-anchor="middle">Cluster 7</text>
<line x1="527" x2="677.3" y1="300.13" y2="300.13" stroke="#EBEBEB" stroke-width="0.6"/><line x1="527" x2="677.3" y1="253.13" y2="253.13" stroke="#EBEBEB" stroke-width="0.6"/><line x1="527" x2="677.3" y1="323.63" y2="323.63" stroke="#EBEBEB" stroke-width="1.2"/><line x1="527" x2="677.3" y1="276.63" y2="276.63" stroke="#EBEBEB" stroke-width="1.2"/><line x1="527" x2="677.3" y1="229.63" y2="229.63" stroke="#EBEBEB" stroke-width="1.2"/><line x1="535.84" x2="535.84" y1="224.78" y2="346.5" stroke="#EBEBEB" stroke-width="1.2"/><line x1="550.58" x2="550.58" y1="224.78" y2="346.5" stroke="#EBEBEB" stroke-width="1.2"/><line x1="565.31" x2="565.31" y1="224.78" y2="346.5" stroke="#EBEBEB" stroke-width="1.2"/><line x1="580.05" x2="580.05" y1="224.78" y2="346.5" stroke="#EBEBEB" stroke-width="1.2"/><line x1="594.78" x2="594.78" y1="224.78" y2="346.5" stroke="#EBEBEB" stroke-width="1.2"/><line x1="609.52" x2="609.52" y1="224.78" y2="346.5" stroke="#EBEBEB" stroke-width="1.2"/><line x1="624.25" x2="624.25" y1="224.78" y2="346.5" stroke="#EBEBEB" stroke-width="1.2"/><line x1="638.99" x2="638.99" y1="224.78" y2="346.5" stroke="#EBEBEB" stroke-width="1.2"/><line x1="653.72" x2="653.72" y1="224.78" y2="346.5" stroke="#EBEBEB" stroke-width="1.2"/><line x1="668.46" x2="668.46" y1="224.78" y2="346.5" stroke="#EBEBEB" stroke-width="1.2"/>
<g fill="none" stroke-width="1.55"><path d="M543.25 252.6H548.05M545.65 252.6V268.4M543.25 268.4H548.05" stroke="#191970"/><path d="M548.18 250H552.98M550.58 250V265.6M548.18 265.6H552.98" stroke="#FFC125"/><path d="M553.11 273H557.91M555.51 273V288.4M553.11 288.4H557.91" stroke="#228B22"/><path d="M557.98 261.4H562.78M560.38 261.4V278M557.98 278H562.78" stroke="#191970"/><path d="M562.91 258.4H567.71M565.31 258.4V275M562.91 275H567.71" stroke="#FFC125"/><path d="M567.84 276.6H572.64M570.24 276.6V291M567.84 291H572.64" stroke="#228B22"/><path d="M572.72 267.6H577.52M575.12 267.6V285M572.72 285H577.52" stroke="#191970"/><path d="M577.65 264.4H582.45M580.05 264.4V282M577.65 282H582.45" stroke="#FFC125"/><path d="M582.58 277H587.38M584.98 277V293.6M582.58 293.6H587.38" stroke="#228B22"/><path d="M587.45 272H592.25M589.85 272V289.6M587.45 289.6H592.25" stroke="#191970"/><path d="M592.38 269H597.18M594.78 269V286.6M592.38 286.6H597.18" stroke="#FFC125"/><path d="M597.31 278H602.11M599.71 278V295M597.31 295H602.11" stroke="#228B22"/><path d="M602.19 274.4H606.99M604.59 274.4V288M602.19 288H606.99" stroke="#191970"/><path d="M607.12 272H611.92M609.52 272V285M607.12 285H611.92" stroke="#FFC125"/><path d="M612.05 277H616.85M614.45 277V290.4M612.05 290.4H616.85" stroke="#228B22"/><path d="M616.92 277.6H621.72M619.32 277.6V293.6M616.92 293.6H621.72" stroke="#191970"/><path d="M621.85 275H626.65M624.25 275V290.4M621.85 290.4H626.65" stroke="#FFC125"/><path d="M626.78 278H631.58M629.18 278V293M626.78 293H631.58" stroke="#228B22"/><path d="M631.66 279.6H636.46M634.06 279.6V297M631.66 297H636.46" stroke="#191970"/><path d="M636.59 277.4H641.39M638.99 277.4V294M636.59 294H641.39" stroke="#FFC125"/><path d="M641.52 277.6H646.32M643.92 277.6V295M641.52 295H646.32" stroke="#228B22"/><path d="M646.39 283H651.19M648.79 283V299.6M646.39 299.6H651.19" stroke="#191970"/><path d="M651.32 280H656.12M653.72 280V296.6M651.32 296.6H656.12" stroke="#FFC125"/><path d="M656.25 278.6H661.05M658.65 278.6V295M656.25 295H661.05" stroke="#228B22"/><path d="M661.13 287.6H665.93M663.53 287.6V306.6M661.13 306.6H665.93" stroke="#191970"/><path d="M666.06 284.4H670.86M668.46 284.4V303.6M666.06 303.6H670.86" stroke="#FFC125"/><path d="M670.99 282H675.79M673.39 282V300.6M670.99 300.6H675.79" stroke="#228B22"/></g>
<g><circle cx="530.91" cy="252" r="2.95" fill="#191970"/><circle cx="535.84" cy="249" r="2.95" fill="#FFC125"/><circle cx="540.77" cy="278" r="2.95" fill="#228B22"/><circle cx="545.65" cy="259.4" r="2.95" fill="#191970"/><circle cx="550.58" cy="256.6" r="2.95" fill="#FFC125"/><circle cx="555.51" cy="279.4" r="2.95" fill="#228B22"/><circle cx="560.38" cy="268" r="2.95" fill="#191970"/><circle cx="565.31" cy="265.4" r="2.95" fill="#FFC125"/><circle cx="570.24" cy="282.6" r="2.95" fill="#228B22"/><circle cx="575.12" cy="274.4" r="2.95" fill="#191970"/><circle cx="580.05" cy="271.6" r="2.95" fill="#FFC125"/><circle cx="584.98" cy="283.6" r="2.95" fill="#228B22"/><circle cx="589.85" cy="279" r="2.95" fill="#191970"/><circle cx="594.78" cy="276.4" r="2.95" fill="#FFC125"/><circle cx="599.71" cy="284.4" r="2.95" fill="#228B22"/><circle cx="604.59" cy="280.4" r="2.95" fill="#191970"/><circle cx="609.52" cy="278" r="2.95" fill="#FFC125"/><circle cx="614.45" cy="283" r="2.95" fill="#228B22"/><circle cx="619.32" cy="284" r="2.95" fill="#191970"/><circle cx="624.25" cy="281" r="2.95" fill="#FFC125"/><circle cx="629.18" cy="284" r="2.95" fill="#228B22"/><circle cx="634.06" cy="287" r="2.95" fill="#191970"/><circle cx="638.99" cy="284" r="2.95" fill="#FFC125"/><circle cx="643.92" cy="284.4" r="2.95" fill="#228B22"/><circle cx="648.79" cy="290" r="2.95" fill="#191970"/><circle cx="653.72" cy="287" r="2.95" fill="#FFC125"/><circle cx="658.65" cy="285.4" r="2.95" fill="#228B22"/><circle cx="663.53" cy="295" r="2.95" fill="#191970"/><circle cx="668.46" cy="291.6" r="2.95" fill="#FFC125"/><circle cx="673.39" cy="289" r="2.95" fill="#228B22"/></g>
<line x1="527" x2="677.3" y1="276.63" y2="276.63" stroke="#000000" stroke-opacity="0.78" stroke-width="1.55" stroke-dasharray="5.15 5.15"/>
<rect x="527" y="224.78" width="150.3" height="121.72" fill="none" stroke="#333333" stroke-width="1.1"/>
<rect x="527" y="204.4" width="150.3" height="20.38" fill="#D9D9D9" stroke="#333333" stroke-width="1.1"/>
<text x="602.15" y="218.38" font-size="10.65" fill="#1A1A1A" text-anchor="middle">Cluster 8</text>
<line x1="53.7" x2="204.5" y1="449.56" y2="449.56" stroke="#EBEBEB" stroke-width="0.6"/><line x1="53.7" x2="204.5" y1="402.56" y2="402.56" stroke="#EBEBEB" stroke-width="0.6"/><line x1="53.7" x2="204.5" y1="473.06" y2="473.06" stroke="#EBEBEB" stroke-width="1.2"/><line x1="53.7" x2="204.5" y1="426.06" y2="426.06" stroke="#EBEBEB" stroke-width="1.2"/><line x1="53.7" x2="204.5" y1="379.06" y2="379.06" stroke="#EBEBEB" stroke-width="1.2"/><line x1="62.57" x2="62.57" y1="374.21" y2="496.1" stroke="#EBEBEB" stroke-width="1.2"/><line x1="77.35" x2="77.35" y1="374.21" y2="496.1" stroke="#EBEBEB" stroke-width="1.2"/><line x1="92.14" x2="92.14" y1="374.21" y2="496.1" stroke="#EBEBEB" stroke-width="1.2"/><line x1="106.92" x2="106.92" y1="374.21" y2="496.1" stroke="#EBEBEB" stroke-width="1.2"/><line x1="121.71" x2="121.71" y1="374.21" y2="496.1" stroke="#EBEBEB" stroke-width="1.2"/><line x1="136.49" x2="136.49" y1="374.21" y2="496.1" stroke="#EBEBEB" stroke-width="1.2"/><line x1="151.28" x2="151.28" y1="374.21" y2="496.1" stroke="#EBEBEB" stroke-width="1.2"/><line x1="166.06" x2="166.06" y1="374.21" y2="496.1" stroke="#EBEBEB" stroke-width="1.2"/><line x1="180.85" x2="180.85" y1="374.21" y2="496.1" stroke="#EBEBEB" stroke-width="1.2"/><line x1="195.63" x2="195.63" y1="374.21" y2="496.1" stroke="#EBEBEB" stroke-width="1.2"/>
<g fill="none" stroke-width="1.55"><path d="M70.02 409.6H74.82M72.42 409.6V470.4M70.02 470.4H74.82" stroke="#191970"/><path d="M74.95 403.4H79.75M77.35 403.4V464M74.95 464H79.75" stroke="#FFC125"/><path d="M79.88 426.4H84.68M82.28 426.4V490.6M79.88 490.6H84.68" stroke="#228B22"/><path d="M84.81 411.4H89.61M87.21 411.4V422M84.81 422H89.61" stroke="#191970"/><path d="M89.74 405H94.54M92.14 405V416M89.74 416H94.54" stroke="#FFC125"/><path d="M94.67 425H99.47M97.07 425V433.6M94.67 433.6H99.47" stroke="#228B22"/><path d="M99.59 417.6H104.39M101.99 417.6V428.4M99.59 428.4H104.39" stroke="#191970"/><path d="M104.52 411.4H109.32M106.92 411.4V422M104.52 422H109.32" stroke="#FFC125"/><path d="M109.45 425.6H114.25M111.85 425.6V435.4M109.45 435.4H114.25" stroke="#228B22"/><path d="M114.38 420.6H119.18M116.78 420.6V433M114.38 433H119.18" stroke="#191970"/><path d="M119.31 414H124.11M121.71 414V427M119.31 427H124.11" stroke="#FFC125"/><path d="M124.24 425.4H129.04M126.64 425.4V437M124.24 437H129.04" stroke="#228B22"/><path d="M129.16 425.6H133.96M131.56 425.6V436M129.16 436H133.96" stroke="#191970"/><path d="M134.09 419.4H138.89M136.49 419.4V430M134.09 430H138.89" stroke="#FFC125"/><path d="M139.02 427.4H143.82M141.42 427.4V437.4M139.02 437.4H143.82" stroke="#228B22"/><path d="M143.95 428.6H148.75M146.35 428.6V439M143.95 439H148.75" stroke="#191970"/><path d="M148.88 422.6H153.68M151.28 422.6V433M148.88 433H153.68" stroke="#FFC125"/><path d="M153.81 428H158.61M156.21 428V438.4M153.81 438.4H158.61" stroke="#228B22"/><path d="M158.73 431H163.53M161.13 431V443M158.73 443H163.53" stroke="#191970"/><path d="M163.66 424.6H168.46M166.06 424.6V436M163.66 436H168.46" stroke="#FFC125"/><path d="M168.59 428H173.39M170.99 428V439.4M168.59 439.4H173.39" stroke="#228B22"/><path d="M173.52 434H178.32M175.92 434V448M173.52 448H178.32" stroke="#191970"/><path d="M178.45 427.4H183.25M180.85 427.4V441M178.45 441H183.25" stroke="#FFC125"/><path d="M183.38 428.6H188.18M185.78 428.6V442M183.38 442H188.18" stroke="#228B22"/><path d="M188.3 434.6H193.1M190.7 434.6V448M188.3 448H193.1" stroke="#191970"/><path d="M193.23 428.6H198.03M195.63 428.6V442M193.23 442H198.03" stroke="#FFC125"/><path d="M198.16 428H202.96M200.56 428V441M198.16 441H202.96" stroke="#228B22"/></g>
<g><circle cx="57.64" cy="410.6" r="2.95" fill="#191970"/><circle cx="62.57" cy="404.4" r="2.95" fill="#FFC125"/><circle cx="67.5" cy="437" r="2.95" fill="#228B22"/><circle cx="72.42" cy="422.6" r="2.95" fill="#191970"/><circle cx="77.35" cy="416.4" r="2.95" fill="#FFC125"/><circle cx="82.28" cy="439.6" r="2.95" fill="#228B22"/><circle cx="87.21" cy="416.4" r="2.95" fill="#191970"/><circle cx="92.14" cy="410" r="2.95" fill="#FFC125"/><circle cx="97.07" cy="428.6" r="2.95" fill="#228B22"/><circle cx="101.99" cy="422.4" r="2.95" fill="#191970"/><circle cx="106.92" cy="416" r="2.95" fill="#FFC125"/><circle cx="111.85" cy="430" r="2.95" fill="#228B22"/><circle cx="116.78" cy="426" r="2.95" fill="#191970"/><circle cx="121.71" cy="419.6" r="2.95" fill="#FFC125"/><circle cx="126.64" cy="430.4" r="2.95" fill="#228B22"/><circle cx="131.56" cy="430" r="2.95" fill="#191970"/><circle cx="136.49" cy="423.4" r="2.95" fill="#FFC125"/><circle cx="141.42" cy="432" r="2.95" fill="#228B22"/><circle cx="146.35" cy="433.4" r="2.95" fill="#191970"/><circle cx="151.28" cy="427.6" r="2.95" fill="#FFC125"/><circle cx="156.21" cy="432.6" r="2.95" fill="#228B22"/><circle cx="161.13" cy="436" r="2.95" fill="#191970"/><circle cx="166.06" cy="429" r="2.95" fill="#FFC125"/><circle cx="170.99" cy="432.6" r="2.95" fill="#228B22"/><circle cx="175.92" cy="440" r="2.95" fill="#191970"/><circle cx="180.85" cy="433" r="2.95" fill="#FFC125"/><circle cx="185.78" cy="434.4" r="2.95" fill="#228B22"/><circle cx="190.7" cy="440" r="2.95" fill="#191970"/><circle cx="195.63" cy="434" r="2.95" fill="#FFC125"/><circle cx="200.56" cy="433.4" r="2.95" fill="#228B22"/></g>
<line x1="53.7" x2="204.5" y1="426.06" y2="426.06" stroke="#000000" stroke-opacity="0.78" stroke-width="1.55" stroke-dasharray="5.15 5.15"/>
<rect x="53.7" y="374.21" width="150.8" height="121.89" fill="none" stroke="#333333" stroke-width="1.1"/>
<rect x="53.7" y="353.9" width="150.8" height="20.31" fill="#D9D9D9" stroke="#333333" stroke-width="1.1"/>
<text x="129.1" y="367.81" font-size="10.65" fill="#1A1A1A" text-anchor="middle">Cluster 9</text>
<line x1="50.3" x2="53.7" y1="473.06" y2="473.06" stroke="#333333" stroke-width="1.1"/>
<text x="47.4" y="477.06" font-size="10.65" fill="#4D4D4D" text-anchor="end">10</text>
<line x1="50.3" x2="53.7" y1="426.06" y2="426.06" stroke="#333333" stroke-width="1.1"/>
<text x="47.4" y="430.06" font-size="10.65" fill="#4D4D4D" text-anchor="end">100</text>
<line x1="50.3" x2="53.7" y1="379.06" y2="379.06" stroke="#333333" stroke-width="1.1"/>
<text x="47.4" y="383.06" font-size="10.65" fill="#4D4D4D" text-anchor="end">1000</text>
<line x1="211.5" x2="362" y1="449.56" y2="449.56" stroke="#EBEBEB" stroke-width="0.6"/><line x1="211.5" x2="362" y1="402.56" y2="402.56" stroke="#EBEBEB" stroke-width="0.6"/><line x1="211.5" x2="362" y1="473.06" y2="473.06" stroke="#EBEBEB" stroke-width="1.2"/><line x1="211.5" x2="362" y1="426.06" y2="426.06" stroke="#EBEBEB" stroke-width="1.2"/><line x1="211.5" x2="362" y1="379.06" y2="379.06" stroke="#EBEBEB" stroke-width="1.2"/><line x1="220.35" x2="220.35" y1="374.21" y2="496.1" stroke="#EBEBEB" stroke-width="1.2"/><line x1="235.11" x2="235.11" y1="374.21" y2="496.1" stroke="#EBEBEB" stroke-width="1.2"/><line x1="249.86" x2="249.86" y1="374.21" y2="496.1" stroke="#EBEBEB" stroke-width="1.2"/><line x1="264.62" x2="264.62" y1="374.21" y2="496.1" stroke="#EBEBEB" stroke-width="1.2"/><line x1="279.37" x2="279.37" y1="374.21" y2="496.1" stroke="#EBEBEB" stroke-width="1.2"/><line x1="294.13" x2="294.13" y1="374.21" y2="496.1" stroke="#EBEBEB" stroke-width="1.2"/><line x1="308.88" x2="308.88" y1="374.21" y2="496.1" stroke="#EBEBEB" stroke-width="1.2"/><line x1="323.64" x2="323.64" y1="374.21" y2="496.1" stroke="#EBEBEB" stroke-width="1.2"/><line x1="338.39" x2="338.39" y1="374.21" y2="496.1" stroke="#EBEBEB" stroke-width="1.2"/><line x1="353.15" x2="353.15" y1="374.21" y2="496.1" stroke="#EBEBEB" stroke-width="1.2"/>
<g fill="none" stroke-width="1.55"><path d="M213.02 388.6H217.82M215.42 388.6V407M213.02 407H217.82" stroke="#191970"/><path d="M217.95 387H222.75M220.35 387V406M217.95 406H222.75" stroke="#FFC125"/><path d="M222.88 416.6H227.68M225.28 416.6V436.4M222.88 436.4H227.68" stroke="#228B22"/><path d="M227.78 403H232.58M230.18 403V422.6M227.78 422.6H232.58" stroke="#191970"/><path d="M232.71 401.6H237.51M235.11 401.6V421.4M232.71 421.4H237.51" stroke="#FFC125"/><path d="M237.64 422H242.44M240.04 422V439.4M237.64 439.4H242.44" stroke="#228B22"/><path d="M242.53 414.6H247.33M244.93 414.6V432M242.53 432H247.33" stroke="#191970"/><path d="M247.46 413.4H252.26M249.86 413.4V430.6M247.46 430.6H252.26" stroke="#FFC125"/><path d="M252.39 427H257.19M254.79 427V443.4M252.39 443.4H257.19" stroke="#228B22"/><path d="M257.29 417.6H262.09M259.69 417.6V431.4M257.29 431.4H262.09" stroke="#191970"/><path d="M262.22 416.6H267.02M264.62 416.6V430.4M262.22 430.4H267.02" stroke="#FFC125"/><path d="M267.15 425.6H271.95M269.55 425.6V438.6M267.15 438.6H271.95" stroke="#228B22"/><path d="M272.04 424H276.84M274.44 424V438.4M272.04 438.4H276.84" stroke="#191970"/><path d="M276.97 422.6H281.77M279.37 422.6V437M276.97 437H281.77" stroke="#FFC125"/><path d="M281.9 427.4H286.7M284.3 427.4V441.4M281.9 441.4H286.7" stroke="#228B22"/><path d="M286.8 426H291.6M289.2 426V440.6M286.8 440.6H291.6" stroke="#191970"/><path d="M291.73 424H296.53M294.13 424V439.4M291.73 439.4H296.53" stroke="#FFC125"/><path d="M296.66 427H301.46M299.06 427V442M296.66 442H301.46" stroke="#228B22"/><path d="M301.55 431.4H306.35M303.95 431.4V445.4M301.55 445.4H306.35" stroke="#191970"/><path d="M306.48 429.6H311.28M308.88 429.6V444.6M306.48 444.6H311.28" stroke="#FFC125"/><path d="M311.41 429H316.21M313.81 429V443.4M311.41 443.4H316.21" stroke="#228B22"/><path d="M316.31 432.6H321.11M318.71 432.6V446.6M316.31 446.6H321.11" stroke="#191970"/><path d="M321.24 431.4H326.04M323.64 431.4V446M321.24 446H326.04" stroke="#FFC125"/><path d="M326.17 428H330.97M328.57 428V442.6M326.17 442.6H330.97" stroke="#228B22"/><path d="M331.06 436H335.86M333.46 436V452M331.06 452H335.86" stroke="#191970"/><path d="M335.99 434.6H340.79M338.39 434.6V451M335.99 451H340.79" stroke="#FFC125"/><path d="M340.92 429.4H345.72M343.32 429.4V446M340.92 446H345.72" stroke="#228B22"/><path d="M345.82 438H350.62M348.22 438V458M345.82 458H350.62" stroke="#191970"/><path d="M350.75 437H355.55M353.15 437V457M350.75 457H355.55" stroke="#FFC125"/><path d="M355.68 430H360.48M358.08 430V450.6M355.68 450.6H360.48" stroke="#228B22"/></g>
<g><circle cx="215.42" cy="395.4" r="2.95" fill="#191970"/><circle cx="220.35" cy="394.4" r="2.95" fill="#FFC125"/><circle cx="225.28" cy="424" r="2.95" fill="#228B22"/><circle cx="230.18" cy="410.6" r="2.95" fill="#191970"/><circle cx="235.11" cy="409.4" r="2.95" fill="#FFC125"/><circle cx="240.04" cy="429" r="2.95" fill="#228B22"/><circle cx="244.93" cy="421.4" r="2.95" fill="#191970"/><circle cx="249.86" cy="420.4" r="2.95" fill="#FFC125"/><circle cx="254.79" cy="433.4" r="2.95" fill="#228B22"/><circle cx="259.69" cy="423.4" r="2.95" fill="#191970"/><circle cx="264.62" cy="422.4" r="2.95" fill="#FFC125"/><circle cx="269.55" cy="430.6" r="2.95" fill="#228B22"/><circle cx="274.44" cy="430" r="2.95" fill="#191970"/><circle cx="279.37" cy="428.4" r="2.95" fill="#FFC125"/><circle cx="284.3" cy="433.4" r="2.95" fill="#228B22"/><circle cx="289.2" cy="432" r="2.95" fill="#191970"/><circle cx="294.13" cy="430" r="2.95" fill="#FFC125"/><circle cx="299.06" cy="433" r="2.95" fill="#228B22"/><circle cx="303.95" cy="437" r="2.95" fill="#191970"/><circle cx="308.88" cy="436" r="2.95" fill="#FFC125"/><circle cx="313.81" cy="434.6" r="2.95" fill="#228B22"/><circle cx="318.71" cy="438" r="2.95" fill="#191970"/><circle cx="323.64" cy="437.4" r="2.95" fill="#FFC125"/><circle cx="328.57" cy="434" r="2.95" fill="#228B22"/><circle cx="333.46" cy="442.6" r="2.95" fill="#191970"/><circle cx="338.39" cy="441.4" r="2.95" fill="#FFC125"/><circle cx="343.32" cy="436" r="2.95" fill="#228B22"/><circle cx="348.22" cy="445.4" r="2.95" fill="#191970"/><circle cx="353.15" cy="444.4" r="2.95" fill="#FFC125"/><circle cx="358.08" cy="438" r="2.95" fill="#228B22"/></g>
<line x1="211.5" x2="362" y1="426.06" y2="426.06" stroke="#000000" stroke-opacity="0.78" stroke-width="1.55" stroke-dasharray="5.15 5.15"/>
<rect x="211.5" y="374.21" width="150.5" height="121.89" fill="none" stroke="#333333" stroke-width="1.1"/>
<rect x="211.5" y="353.9" width="150.5" height="20.31" fill="#D9D9D9" stroke="#333333" stroke-width="1.1"/>
<text x="286.75" y="367.81" font-size="10.65" fill="#1A1A1A" text-anchor="middle">Cluster 10</text>
<line x1="369.5" x2="519.6" y1="449.56" y2="449.56" stroke="#EBEBEB" stroke-width="0.6"/><line x1="369.5" x2="519.6" y1="402.56" y2="402.56" stroke="#EBEBEB" stroke-width="0.6"/><line x1="369.5" x2="519.6" y1="473.06" y2="473.06" stroke="#EBEBEB" stroke-width="1.2"/><line x1="369.5" x2="519.6" y1="426.06" y2="426.06" stroke="#EBEBEB" stroke-width="1.2"/><line x1="369.5" x2="519.6" y1="379.06" y2="379.06" stroke="#EBEBEB" stroke-width="1.2"/><line x1="378.33" x2="378.33" y1="374.21" y2="496.1" stroke="#EBEBEB" stroke-width="1.2"/><line x1="393.05" x2="393.05" y1="374.21" y2="496.1" stroke="#EBEBEB" stroke-width="1.2"/><line x1="407.76" x2="407.76" y1="374.21" y2="496.1" stroke="#EBEBEB" stroke-width="1.2"/><line x1="422.48" x2="422.48" y1="374.21" y2="496.1" stroke="#EBEBEB" stroke-width="1.2"/><line x1="437.19" x2="437.19" y1="374.21" y2="496.1" stroke="#EBEBEB" stroke-width="1.2"/><line x1="451.91" x2="451.91" y1="374.21" y2="496.1" stroke="#EBEBEB" stroke-width="1.2"/><line x1="466.62" x2="466.62" y1="374.21" y2="496.1" stroke="#EBEBEB" stroke-width="1.2"/><line x1="481.34" x2="481.34" y1="374.21" y2="496.1" stroke="#EBEBEB" stroke-width="1.2"/><line x1="496.05" x2="496.05" y1="374.21" y2="496.1" stroke="#EBEBEB" stroke-width="1.2"/><line x1="510.77" x2="510.77" y1="374.21" y2="496.1" stroke="#EBEBEB" stroke-width="1.2"/>
<g fill="none" stroke-width="1.55"><path d="M371 386.6H375.8M373.4 386.6V408M371 408H375.8" stroke="#191970"/><path d="M375.93 381.4H380.73M378.33 381.4V403M375.93 403H380.73" stroke="#FFC125"/><path d="M380.86 412.4H385.66M383.26 412.4V432M380.86 432H385.66" stroke="#228B22"/><path d="M385.72 398.6H390.52M388.12 398.6V418.6M385.72 418.6H390.52" stroke="#191970"/><path d="M390.65 393.4H395.45M393.05 393.4V413.4M390.65 413.4H395.45" stroke="#FFC125"/><path d="M395.58 418H400.38M397.98 418V434.6M395.58 434.6H400.38" stroke="#228B22"/><path d="M400.43 412.4H405.23M402.83 412.4V424.4M400.43 424.4H405.23" stroke="#191970"/><path d="M405.36 407H410.16M407.76 407V419M405.36 419H410.16" stroke="#FFC125"/><path d="M410.29 423.4H415.09M412.69 423.4V435.4M410.29 435.4H415.09" stroke="#228B22"/><path d="M415.15 420.6H419.95M417.55 420.6V432.4M415.15 432.4H419.95" stroke="#191970"/><path d="M420.08 415.4H424.88M422.48 415.4V427M420.08 427H424.88" stroke="#FFC125"/><path d="M425.01 428H429.81M427.41 428V439M425.01 439H429.81" stroke="#228B22"/><path d="M429.86 425.6H434.66M432.26 425.6V438M429.86 438H434.66" stroke="#191970"/><path d="M434.79 420.4H439.59M437.19 420.4V432.6M434.79 432.6H439.59" stroke="#FFC125"/><path d="M439.72 428.6H444.52M442.12 428.6V440.6M439.72 440.6H444.52" stroke="#228B22"/><path d="M444.58 427.6H449.38M446.98 427.6V443M444.58 443H449.38" stroke="#191970"/><path d="M449.51 422.6H454.31M451.91 422.6V438M449.51 438H454.31" stroke="#FFC125"/><path d="M454.44 427.6H459.24M456.84 427.6V443M454.44 443H459.24" stroke="#228B22"/><path d="M459.29 432H464.09M461.69 432V446M459.29 446H464.09" stroke="#191970"/><path d="M464.22 427H469.02M466.62 427V441M464.22 441H469.02" stroke="#FFC125"/><path d="M469.15 429H473.95M471.55 429V443.6M469.15 443.6H473.95" stroke="#228B22"/><path d="M474.01 433.4H478.81M476.41 433.4V450M474.01 450H478.81" stroke="#191970"/><path d="M478.94 428H483.74M481.34 428V445M478.94 445H483.74" stroke="#FFC125"/><path d="M483.87 428.6H488.67M486.27 428.6V446M483.87 446H488.67" stroke="#228B22"/><path d="M488.72 439.6H493.52M491.12 439.6V450M488.72 450H493.52" stroke="#191970"/><path d="M493.65 434.4H498.45M496.05 434.4V444.6M493.65 444.6H498.45" stroke="#FFC125"/><path d="M498.58 433H503.38M500.98 433V443.4M498.58 443.4H503.38" stroke="#228B22"/><path d="M503.44 435.4H508.24M505.84 435.4V455.4M503.44 455.4H508.24" stroke="#191970"/><path d="M508.37 430H513.17M510.77 430V450M508.37 450H513.17" stroke="#FFC125"/><path d="M513.3 427.4H518.1M515.7 427.4V447M513.3 447H518.1" stroke="#228B22"/></g>
<g><circle cx="373.4" cy="395" r="2.95" fill="#191970"/><circle cx="378.33" cy="389.4" r="2.95" fill="#FFC125"/><circle cx="383.26" cy="420" r="2.95" fill="#228B22"/><circle cx="388.12" cy="406.4" r="2.95" fill="#191970"/><circle cx="393.05" cy="401" r="2.95" fill="#FFC125"/><circle cx="397.98" cy="425" r="2.95" fill="#228B22"/><circle cx="402.83" cy="417.6" r="2.95" fill="#191970"/><circle cx="407.76" cy="412.4" r="2.95" fill="#FFC125"/><circle cx="412.69" cy="428.6" r="2.95" fill="#228B22"/><circle cx="417.55" cy="425.6" r="2.95" fill="#191970"/><circle cx="422.48" cy="420.4" r="2.95" fill="#FFC125"/><circle cx="427.41" cy="433" r="2.95" fill="#228B22"/><circle cx="432.26" cy="430.6" r="2.95" fill="#191970"/><circle cx="437.19" cy="425.4" r="2.95" fill="#FFC125"/><circle cx="442.12" cy="434" r="2.95" fill="#228B22"/><circle cx="446.98" cy="433.4" r="2.95" fill="#191970"/><circle cx="451.91" cy="428.6" r="2.95" fill="#FFC125"/><circle cx="456.84" cy="433.4" r="2.95" fill="#228B22"/><circle cx="461.69" cy="437.4" r="2.95" fill="#191970"/><circle cx="466.62" cy="432.6" r="2.95" fill="#FFC125"/><circle cx="471.55" cy="435" r="2.95" fill="#228B22"/><circle cx="476.41" cy="440" r="2.95" fill="#191970"/><circle cx="481.34" cy="434.6" r="2.95" fill="#FFC125"/><circle cx="486.27" cy="435" r="2.95" fill="#228B22"/><circle cx="491.12" cy="444" r="2.95" fill="#191970"/><circle cx="496.05" cy="438.6" r="2.95" fill="#FFC125"/><circle cx="500.98" cy="437.4" r="2.95" fill="#228B22"/><circle cx="505.84" cy="443" r="2.95" fill="#191970"/><circle cx="510.77" cy="438" r="2.95" fill="#FFC125"/><circle cx="515.7" cy="434.6" r="2.95" fill="#228B22"/></g>
<line x1="369.5" x2="519.6" y1="426.06" y2="426.06" stroke="#000000" stroke-opacity="0.78" stroke-width="1.55" stroke-dasharray="5.15 5.15"/>
<rect x="369.5" y="374.21" width="150.1" height="121.89" fill="none" stroke="#333333" stroke-width="1.1"/>
<rect x="369.5" y="353.9" width="150.1" height="20.31" fill="#D9D9D9" stroke="#333333" stroke-width="1.1"/>
<text x="444.55" y="367.81" font-size="10.65" fill="#1A1A1A" text-anchor="middle">Cluster 11</text>
<line x1="527" x2="677.3" y1="449.56" y2="449.56" stroke="#EBEBEB" stroke-width="0.6"/><line x1="527" x2="677.3" y1="402.56" y2="402.56" stroke="#EBEBEB" stroke-width="0.6"/><line x1="527" x2="677.3" y1="473.06" y2="473.06" stroke="#EBEBEB" stroke-width="1.2"/><line x1="527" x2="677.3" y1="426.06" y2="426.06" stroke="#EBEBEB" stroke-width="1.2"/><line x1="527" x2="677.3" y1="379.06" y2="379.06" stroke="#EBEBEB" stroke-width="1.2"/><line x1="535.84" x2="535.84" y1="374.21" y2="496.1" stroke="#EBEBEB" stroke-width="1.2"/><line x1="550.58" x2="550.58" y1="374.21" y2="496.1" stroke="#EBEBEB" stroke-width="1.2"/><line x1="565.31" x2="565.31" y1="374.21" y2="496.1" stroke="#EBEBEB" stroke-width="1.2"/><line x1="580.05" x2="580.05" y1="374.21" y2="496.1" stroke="#EBEBEB" stroke-width="1.2"/><line x1="594.78" x2="594.78" y1="374.21" y2="496.1" stroke="#EBEBEB" stroke-width="1.2"/><line x1="609.52" x2="609.52" y1="374.21" y2="496.1" stroke="#EBEBEB" stroke-width="1.2"/><line x1="624.25" x2="624.25" y1="374.21" y2="496.1" stroke="#EBEBEB" stroke-width="1.2"/><line x1="638.99" x2="638.99" y1="374.21" y2="496.1" stroke="#EBEBEB" stroke-width="1.2"/><line x1="653.72" x2="653.72" y1="374.21" y2="496.1" stroke="#EBEBEB" stroke-width="1.2"/><line x1="668.46" x2="668.46" y1="374.21" y2="496.1" stroke="#EBEBEB" stroke-width="1.2"/>
<g fill="none" stroke-width="1.55"><path d="M543.25 393.6H548.05M545.65 393.6V408M543.25 408H548.05" stroke="#191970"/><path d="M548.18 394.6H552.98M550.58 394.6V409M548.18 409H552.98" stroke="#FFC125"/><path d="M553.11 416H557.91M555.51 416V426M553.11 426H557.91" stroke="#228B22"/><path d="M557.98 407.6H562.78M560.38 407.6V425M557.98 425H562.78" stroke="#191970"/><path d="M562.91 408.6H567.71M565.31 408.6V426M562.91 426H567.71" stroke="#FFC125"/><path d="M567.84 424.6H572.64M570.24 424.6V440M567.84 440H572.64" stroke="#228B22"/><path d="M572.72 414.6H577.52M575.12 414.6V432M572.72 432H577.52" stroke="#191970"/><path d="M577.65 415.4H582.45M580.05 415.4V433.4M577.65 433.4H582.45" stroke="#FFC125"/><path d="M582.58 425H587.38M584.98 425V443M582.58 443H587.38" stroke="#228B22"/><path d="M587.45 420.6H592.25M589.85 420.6V434.6M587.45 434.6H592.25" stroke="#191970"/><path d="M592.38 421.4H597.18M594.78 421.4V435.6M592.38 435.6H597.18" stroke="#FFC125"/><path d="M597.31 427.4H602.11M599.71 427.4V442M597.31 442H602.11" stroke="#228B22"/><path d="M602.19 424H606.99M604.59 424V441M602.19 441H606.99" stroke="#191970"/><path d="M607.12 425H611.92M609.52 425V442.6M607.12 442.6H611.92" stroke="#FFC125"/><path d="M612.05 428H616.85M614.45 428V445.4M612.05 445.4H616.85" stroke="#228B22"/><path d="M616.92 425.4H621.72M619.32 425.4V446.6M616.92 446.6H621.72" stroke="#191970"/><path d="M621.85 426.4H626.65M624.25 426.4V448M621.85 448H626.65" stroke="#FFC125"/><path d="M626.78 427.4H631.58M629.18 427.4V448M626.78 448H631.58" stroke="#228B22"/><path d="M631.66 429.4H636.46M634.06 429.4V445M631.66 445H636.46" stroke="#191970"/><path d="M636.59 430.6H641.39M638.99 430.6V446.6M636.59 446.6H641.39" stroke="#FFC125"/><path d="M641.52 428.6H646.32M643.92 428.6V444.6M641.52 444.6H646.32" stroke="#228B22"/><path d="M646.39 431H651.19M648.79 431V449M646.39 449H651.19" stroke="#191970"/><path d="M651.32 432H656.12M653.72 432V450M651.32 450H656.12" stroke="#FFC125"/><path d="M656.25 428.6H661.05M658.65 428.6V446M656.25 446H661.05" stroke="#228B22"/><path d="M661.13 434.6H665.93M663.53 434.6V450M661.13 450H665.93" stroke="#191970"/><path d="M666.06 436H670.86M668.46 436V451M666.06 451H670.86" stroke="#FFC125"/><path d="M670.99 431H675.79M673.39 431V446M670.99 446H675.79" stroke="#228B22"/></g>
<g><circle cx="545.65" cy="399.6" r="2.95" fill="#191970"/><circle cx="550.58" cy="400.6" r="2.95" fill="#FFC125"/><circle cx="555.51" cy="420.6" r="2.95" fill="#228B22"/><circle cx="560.38" cy="414.6" r="2.95" fill="#191970"/><circle cx="565.31" cy="415.6" r="2.95" fill="#FFC125"/><circle cx="570.24" cy="431" r="2.95" fill="#228B22"/><circle cx="575.12" cy="421.4" r="2.95" fill="#191970"/><circle cx="580.05" cy="422.6" r="2.95" fill="#FFC125"/><circle cx="584.98" cy="432" r="2.95" fill="#228B22"/><circle cx="589.85" cy="426.6" r="2.95" fill="#191970"/><circle cx="594.78" cy="427.6" r="2.95" fill="#FFC125"/><circle cx="599.71" cy="433.4" r="2.95" fill="#228B22"/><circle cx="604.59" cy="431" r="2.95" fill="#191970"/><circle cx="609.52" cy="432.6" r="2.95" fill="#FFC125"/><circle cx="614.45" cy="434.6" r="2.95" fill="#228B22"/><circle cx="619.32" cy="433" r="2.95" fill="#191970"/><circle cx="624.25" cy="434.6" r="2.95" fill="#FFC125"/><circle cx="629.18" cy="435" r="2.95" fill="#228B22"/><circle cx="634.06" cy="436" r="2.95" fill="#191970"/><circle cx="638.99" cy="437.4" r="2.95" fill="#FFC125"/><circle cx="643.92" cy="435" r="2.95" fill="#228B22"/><circle cx="648.79" cy="438" r="2.95" fill="#191970"/><circle cx="653.72" cy="439" r="2.95" fill="#FFC125"/><circle cx="658.65" cy="435.4" r="2.95" fill="#228B22"/><circle cx="663.53" cy="441" r="2.95" fill="#191970"/><circle cx="668.46" cy="442.6" r="2.95" fill="#FFC125"/><circle cx="673.39" cy="437.4" r="2.95" fill="#228B22"/></g>
<line x1="527" x2="677.3" y1="426.06" y2="426.06" stroke="#000000" stroke-opacity="0.78" stroke-width="1.55" stroke-dasharray="5.15 5.15"/>
<rect x="527" y="374.21" width="150.3" height="121.89" fill="none" stroke="#333333" stroke-width="1.1"/>
<rect x="527" y="353.9" width="150.3" height="20.31" fill="#D9D9D9" stroke="#333333" stroke-width="1.1"/>
<text x="602.15" y="367.81" font-size="10.65" fill="#1A1A1A" text-anchor="middle">Cluster 12</text>
<line x1="53.7" x2="204.5" y1="598.99" y2="598.99" stroke="#EBEBEB" stroke-width="0.6"/><line x1="53.7" x2="204.5" y1="551.99" y2="551.99" stroke="#EBEBEB" stroke-width="0.6"/><line x1="53.7" x2="204.5" y1="622.49" y2="622.49" stroke="#EBEBEB" stroke-width="1.2"/><line x1="53.7" x2="204.5" y1="575.49" y2="575.49" stroke="#EBEBEB" stroke-width="1.2"/><line x1="53.7" x2="204.5" y1="528.49" y2="528.49" stroke="#EBEBEB" stroke-width="1.2"/><line x1="62.57" x2="62.57" y1="523.64" y2="645.4" stroke="#EBEBEB" stroke-width="1.2"/><line x1="77.35" x2="77.35" y1="523.64" y2="645.4" stroke="#EBEBEB" stroke-width="1.2"/><line x1="92.14" x2="92.14" y1="523.64" y2="645.4" stroke="#EBEBEB" stroke-width="1.2"/><line x1="106.92" x2="106.92" y1="523.64" y2="645.4" stroke="#EBEBEB" stroke-width="1.2"/><line x1="121.71" x2="121.71" y1="523.64" y2="645.4" stroke="#EBEBEB" stroke-width="1.2"/><line x1="136.49" x2="136.49" y1="523.64" y2="645.4" stroke="#EBEBEB" stroke-width="1.2"/><line x1="151.28" x2="151.28" y1="523.64" y2="645.4" stroke="#EBEBEB" stroke-width="1.2"/><line x1="166.06" x2="166.06" y1="523.64" y2="645.4" stroke="#EBEBEB" stroke-width="1.2"/><line x1="180.85" x2="180.85" y1="523.64" y2="645.4" stroke="#EBEBEB" stroke-width="1.2"/><line x1="195.63" x2="195.63" y1="523.64" y2="645.4" stroke="#EBEBEB" stroke-width="1.2"/>
<g fill="none" stroke-width="1.55"><path d="M70.02 557.2H74.82M72.42 557.2V561.6M70.02 561.6H74.82" stroke="#191970"/><path d="M74.95 548.4H79.75M77.35 548.4V552.8M74.95 552.8H79.75" stroke="#FFC125"/><path d="M79.88 578.4H84.68M82.28 578.4V582.8M79.88 582.8H84.68" stroke="#228B22"/><path d="M84.81 557.6H89.61M87.21 557.6V584M84.81 584H89.61" stroke="#191970"/><path d="M89.74 549.4H94.54M92.14 549.4V575.4M89.74 575.4H94.54" stroke="#FFC125"/><path d="M94.67 572.6H99.47M97.07 572.6V597.4M94.67 597.4H99.47" stroke="#228B22"/><path d="M99.59 566H104.39M101.99 566V598.6M99.59 598.6H104.39" stroke="#191970"/><path d="M104.52 557.6H109.32M106.92 557.6V590M104.52 590H109.32" stroke="#FFC125"/><path d="M109.45 574.6H114.25M111.85 574.6V607M109.45 607H114.25" stroke="#228B22"/><path d="M114.38 569.6H119.18M116.78 569.6V588.6M114.38 588.6H119.18" stroke="#191970"/><path d="M119.31 561H124.11M121.71 561V580.4M119.31 580.4H124.11" stroke="#FFC125"/><path d="M124.24 575.6H129.04M126.64 575.6V593.4M124.24 593.4H129.04" stroke="#228B22"/><path d="M129.16 576H133.96M131.56 576V593.4M129.16 593.4H133.96" stroke="#191970"/><path d="M134.09 567H138.89M136.49 567V585M134.09 585H138.89" stroke="#FFC125"/><path d="M139.02 577.4H143.82M141.42 577.4V596M139.02 596H143.82" stroke="#228B22"/><path d="M143.95 579H148.75M146.35 579V597M143.95 597H148.75" stroke="#191970"/><path d="M148.88 570.6H153.68M151.28 570.6V588.6M148.88 588.6H153.68" stroke="#FFC125"/><path d="M153.81 579H158.61M156.21 579V597M153.81 597H158.61" stroke="#228B22"/><path d="M158.73 580.6H163.53M161.13 580.6V598.6M158.73 598.6H163.53" stroke="#191970"/><path d="M163.66 572H168.46M166.06 572V590M163.66 590H168.46" stroke="#FFC125"/><path d="M168.59 578.6H173.39M170.99 578.6V596.6M168.59 596.6H173.39" stroke="#228B22"/><path d="M173.52 584H178.32M175.92 584V602.6M173.52 602.6H178.32" stroke="#191970"/><path d="M178.45 576H183.25M180.85 576V594M178.45 594H183.25" stroke="#FFC125"/><path d="M183.38 579.4H188.18M185.78 579.4V598.6M183.38 598.6H188.18" stroke="#228B22"/><path d="M188.3 577.4H193.1M190.7 577.4V615M188.3 615H193.1" stroke="#191970"/><path d="M193.23 569H198.03M195.63 569V606.6M193.23 606.6H198.03" stroke="#FFC125"/><path d="M198.16 571.4H202.96M200.56 571.4V611M198.16 611H202.96" stroke="#228B22"/></g>
<g><circle cx="72.42" cy="559.4" r="2.95" fill="#191970"/><circle cx="77.35" cy="550.6" r="2.95" fill="#FFC125"/><circle cx="82.28" cy="580.6" r="2.95" fill="#228B22"/><circle cx="87.21" cy="567" r="2.95" fill="#191970"/><circle cx="92.14" cy="558.4" r="2.95" fill="#FFC125"/><circle cx="97.07" cy="581.6" r="2.95" fill="#228B22"/><circle cx="101.99" cy="576.6" r="2.95" fill="#191970"/><circle cx="106.92" cy="568" r="2.95" fill="#FFC125"/><circle cx="111.85" cy="585" r="2.95" fill="#228B22"/><circle cx="116.78" cy="577" r="2.95" fill="#191970"/><circle cx="121.71" cy="568.6" r="2.95" fill="#FFC125"/><circle cx="126.64" cy="582.6" r="2.95" fill="#228B22"/><circle cx="131.56" cy="582.6" r="2.95" fill="#191970"/><circle cx="136.49" cy="573.4" r="2.95" fill="#FFC125"/><circle cx="141.42" cy="584.6" r="2.95" fill="#228B22"/><circle cx="146.35" cy="586" r="2.95" fill="#191970"/><circle cx="151.28" cy="577.4" r="2.95" fill="#FFC125"/><circle cx="156.21" cy="586" r="2.95" fill="#228B22"/><circle cx="161.13" cy="587.4" r="2.95" fill="#191970"/><circle cx="166.06" cy="579" r="2.95" fill="#FFC125"/><circle cx="170.99" cy="585.4" r="2.95" fill="#228B22"/><circle cx="175.92" cy="591" r="2.95" fill="#191970"/><circle cx="180.85" cy="582.6" r="2.95" fill="#FFC125"/><circle cx="185.78" cy="587" r="2.95" fill="#228B22"/><circle cx="190.7" cy="588.6" r="2.95" fill="#191970"/><circle cx="195.63" cy="580" r="2.95" fill="#FFC125"/><circle cx="200.56" cy="583" r="2.95" fill="#228B22"/></g>
<line x1="53.7" x2="204.5" y1="575.49" y2="575.49" stroke="#000000" stroke-opacity="0.78" stroke-width="1.55" stroke-dasharray="5.15 5.15"/>
<rect x="53.7" y="523.64" width="150.8" height="121.76" fill="none" stroke="#333333" stroke-width="1.1"/>
<rect x="53.7" y="503.5" width="150.8" height="20.14" fill="#D9D9D9" stroke="#333333" stroke-width="1.1"/>
<text x="129.1" y="517.24" font-size="10.65" fill="#1A1A1A" text-anchor="middle">Cluster 13</text>
<line x1="50.3" x2="53.7" y1="622.49" y2="622.49" stroke="#333333" stroke-width="1.1"/>
<text x="47.4" y="626.49" font-size="10.65" fill="#4D4D4D" text-anchor="end">10</text>
<line x1="50.3" x2="53.7" y1="575.49" y2="575.49" stroke="#333333" stroke-width="1.1"/>
<text x="47.4" y="579.49" font-size="10.65" fill="#4D4D4D" text-anchor="end">100</text>
<line x1="50.3" x2="53.7" y1="528.49" y2="528.49" stroke="#333333" stroke-width="1.1"/>
<text x="47.4" y="532.49" font-size="10.65" fill="#4D4D4D" text-anchor="end">1000</text>
<line x1="62.57" x2="62.57" y1="645.4" y2="648.8" stroke="#333333" stroke-width="1.1"/>
<text x="62.57" y="659.8" font-size="10.65" fill="#4D4D4D" text-anchor="middle">1</text>
<line x1="77.35" x2="77.35" y1="645.4" y2="648.8" stroke="#333333" stroke-width="1.1"/>
<text x="77.35" y="659.8" font-size="10.65" fill="#4D4D4D" text-anchor="middle">2</text>
<line x1="92.14" x2="92.14" y1="645.4" y2="648.8" stroke="#333333" stroke-width="1.1"/>
<text x="92.14" y="659.8" font-size="10.65" fill="#4D4D4D" text-anchor="middle">3</text>
<line x1="106.92" x2="106.92" y1="645.4" y2="648.8" stroke="#333333" stroke-width="1.1"/>
<text x="106.92" y="659.8" font-size="10.65" fill="#4D4D4D" text-anchor="middle">4</text>
<line x1="121.71" x2="121.71" y1="645.4" y2="648.8" stroke="#333333" stroke-width="1.1"/>
<text x="121.71" y="659.8" font-size="10.65" fill="#4D4D4D" text-anchor="middle">5</text>
<line x1="136.49" x2="136.49" y1="645.4" y2="648.8" stroke="#333333" stroke-width="1.1"/>
<text x="136.49" y="659.8" font-size="10.65" fill="#4D4D4D" text-anchor="middle">6</text>
<line x1="151.28" x2="151.28" y1="645.4" y2="648.8" stroke="#333333" stroke-width="1.1"/>
<text x="151.28" y="659.8" font-size="10.65" fill="#4D4D4D" text-anchor="middle">7</text>
<line x1="166.06" x2="166.06" y1="645.4" y2="648.8" stroke="#333333" stroke-width="1.1"/>
<text x="166.06" y="659.8" font-size="10.65" fill="#4D4D4D" text-anchor="middle">8</text>
<line x1="180.85" x2="180.85" y1="645.4" y2="648.8" stroke="#333333" stroke-width="1.1"/>
<text x="180.85" y="659.8" font-size="10.65" fill="#4D4D4D" text-anchor="middle">9</text>
<line x1="195.63" x2="195.63" y1="645.4" y2="648.8" stroke="#333333" stroke-width="1.1"/>
<text x="195.63" y="659.8" font-size="10.65" fill="#4D4D4D" text-anchor="middle">10</text>
<line x1="211.5" x2="362" y1="598.99" y2="598.99" stroke="#EBEBEB" stroke-width="0.6"/><line x1="211.5" x2="362" y1="551.99" y2="551.99" stroke="#EBEBEB" stroke-width="0.6"/><line x1="211.5" x2="362" y1="622.49" y2="622.49" stroke="#EBEBEB" stroke-width="1.2"/><line x1="211.5" x2="362" y1="575.49" y2="575.49" stroke="#EBEBEB" stroke-width="1.2"/><line x1="211.5" x2="362" y1="528.49" y2="528.49" stroke="#EBEBEB" stroke-width="1.2"/><line x1="220.35" x2="220.35" y1="523.64" y2="645.4" stroke="#EBEBEB" stroke-width="1.2"/><line x1="235.11" x2="235.11" y1="523.64" y2="645.4" stroke="#EBEBEB" stroke-width="1.2"/><line x1="249.86" x2="249.86" y1="523.64" y2="645.4" stroke="#EBEBEB" stroke-width="1.2"/><line x1="264.62" x2="264.62" y1="523.64" y2="645.4" stroke="#EBEBEB" stroke-width="1.2"/><line x1="279.37" x2="279.37" y1="523.64" y2="645.4" stroke="#EBEBEB" stroke-width="1.2"/><line x1="294.13" x2="294.13" y1="523.64" y2="645.4" stroke="#EBEBEB" stroke-width="1.2"/><line x1="308.88" x2="308.88" y1="523.64" y2="645.4" stroke="#EBEBEB" stroke-width="1.2"/><line x1="323.64" x2="323.64" y1="523.64" y2="645.4" stroke="#EBEBEB" stroke-width="1.2"/><line x1="338.39" x2="338.39" y1="523.64" y2="645.4" stroke="#EBEBEB" stroke-width="1.2"/><line x1="353.15" x2="353.15" y1="523.64" y2="645.4" stroke="#EBEBEB" stroke-width="1.2"/>
<g fill="none" stroke-width="1.55"><path d="M213.02 544.6H217.82M215.42 544.6V571M213.02 571H217.82" stroke="#191970"/><path d="M217.95 535.4H222.75M220.35 535.4V561.6M217.95 561.6H222.75" stroke="#FFC125"/><path d="M222.88 568.6H227.68M225.28 568.6V589.4M222.88 589.4H227.68" stroke="#228B22"/><path d="M227.78 556.6H232.58M230.18 556.6V584.4M227.78 584.4H232.58" stroke="#191970"/><path d="M232.71 547.6H237.51M235.11 547.6V575M232.71 575H237.51" stroke="#FFC125"/><path d="M237.64 571.4H242.44M240.04 571.4V595M237.64 595H242.44" stroke="#228B22"/><path d="M242.53 570.4H247.33M244.93 570.4V590M242.53 590H247.33" stroke="#191970"/><path d="M247.46 561.4H252.26M249.86 561.4V581.4M247.46 581.4H252.26" stroke="#FFC125"/><path d="M252.39 577.4H257.19M254.79 577.4V597M252.39 597H257.19" stroke="#228B22"/><path d="M257.29 576.6H262.09M259.69 576.6V595.4M257.29 595.4H262.09" stroke="#191970"/><path d="M262.22 567.6H267.02M264.62 567.6V586.4M262.22 586.4H267.02" stroke="#FFC125"/><path d="M267.15 578.6H271.95M269.55 578.6V597M267.15 597H271.95" stroke="#228B22"/><path d="M272.04 579.6H276.84M274.44 579.6V597M272.04 597H276.84" stroke="#191970"/><path d="M276.97 570.6H281.77M279.37 570.6V588M276.97 588H281.77" stroke="#FFC125"/><path d="M281.9 578H286.7M284.3 578V595M281.9 595H286.7" stroke="#228B22"/><path d="M286.8 581.6H291.6M289.2 581.6V599.4M286.8 599.4H291.6" stroke="#191970"/><path d="M291.73 572.4H296.53M294.13 572.4V590.6M291.73 590.6H296.53" stroke="#FFC125"/><path d="M296.66 576.6H301.46M299.06 576.6V595M296.66 595H301.46" stroke="#228B22"/><path d="M301.55 588H306.35M303.95 588V604M301.55 604H306.35" stroke="#191970"/><path d="M306.48 579H311.28M308.88 579V595.4M306.48 595.4H311.28" stroke="#FFC125"/><path d="M311.41 580.6H316.21M313.81 580.6V597M311.41 597H316.21" stroke="#228B22"/><path d="M316.31 592H321.11M318.71 592V605.4M316.31 605.4H321.11" stroke="#191970"/><path d="M321.24 582.6H326.04M323.64 582.6V596M321.24 596H326.04" stroke="#FFC125"/><path d="M326.17 582H330.97M328.57 582V595M326.17 595H330.97" stroke="#228B22"/><path d="M331.06 592H335.86M333.46 592V610M331.06 610H335.86" stroke="#191970"/><path d="M335.99 582.6H340.79M338.39 582.6V601M335.99 601H340.79" stroke="#FFC125"/><path d="M340.92 580.6H345.72M343.32 580.6V598M340.92 598H345.72" stroke="#228B22"/><path d="M345.82 590H350.62M348.22 590V609M345.82 609H350.62" stroke="#191970"/><path d="M350.75 581.4H355.55M353.15 581.4V600M350.75 600H355.55" stroke="#FFC125"/><path d="M355.68 577H360.48M358.08 577V596M355.68 596H360.48" stroke="#228B22"/></g>
<g><circle cx="215.42" cy="553.6" r="2.95" fill="#191970"/><circle cx="220.35" cy="544.6" r="2.95" fill="#FFC125"/><circle cx="225.28" cy="576.6" r="2.95" fill="#228B22"/><circle cx="230.18" cy="566" r="2.95" fill="#191970"/><circle cx="235.11" cy="557" r="2.95" fill="#FFC125"/><circle cx="240.04" cy="580" r="2.95" fill="#228B22"/><circle cx="244.93" cy="578" r="2.95" fill="#191970"/><circle cx="249.86" cy="569" r="2.95" fill="#FFC125"/><circle cx="254.79" cy="585" r="2.95" fill="#228B22"/><circle cx="259.69" cy="584" r="2.95" fill="#191970"/><circle cx="264.62" cy="575" r="2.95" fill="#FFC125"/><circle cx="269.55" cy="586" r="2.95" fill="#228B22"/><circle cx="274.44" cy="586.6" r="2.95" fill="#191970"/><circle cx="279.37" cy="577.4" r="2.95" fill="#FFC125"/><circle cx="284.3" cy="584.6" r="2.95" fill="#228B22"/><circle cx="289.2" cy="588.4" r="2.95" fill="#191970"/><circle cx="294.13" cy="579" r="2.95" fill="#FFC125"/><circle cx="299.06" cy="583.6" r="2.95" fill="#228B22"/><circle cx="303.95" cy="594.6" r="2.95" fill="#191970"/><circle cx="308.88" cy="585.6" r="2.95" fill="#FFC125"/><circle cx="313.81" cy="587.4" r="2.95" fill="#228B22"/><circle cx="318.71" cy="597.4" r="2.95" fill="#191970"/><circle cx="323.64" cy="588.4" r="2.95" fill="#FFC125"/><circle cx="328.57" cy="588" r="2.95" fill="#228B22"/><circle cx="333.46" cy="599" r="2.95" fill="#191970"/><circle cx="338.39" cy="590" r="2.95" fill="#FFC125"/><circle cx="343.32" cy="587.6" r="2.95" fill="#228B22"/><circle cx="348.22" cy="597.4" r="2.95" fill="#191970"/><circle cx="353.15" cy="588.4" r="2.95" fill="#FFC125"/><circle cx="358.08" cy="584.4" r="2.95" fill="#228B22"/></g>
<line x1="211.5" x2="362" y1="575.49" y2="575.49" stroke="#000000" stroke-opacity="0.78" stroke-width="1.55" stroke-dasharray="5.15 5.15"/>
<rect x="211.5" y="523.64" width="150.5" height="121.76" fill="none" stroke="#333333" stroke-width="1.1"/>
<rect x="211.5" y="503.5" width="150.5" height="20.14" fill="#D9D9D9" stroke="#333333" stroke-width="1.1"/>
<text x="286.75" y="517.24" font-size="10.65" fill="#1A1A1A" text-anchor="middle">Cluster 14</text>
<line x1="220.35" x2="220.35" y1="645.4" y2="648.8" stroke="#333333" stroke-width="1.1"/>
<text x="220.35" y="659.8" font-size="10.65" fill="#4D4D4D" text-anchor="middle">1</text>
<line x1="235.11" x2="235.11" y1="645.4" y2="648.8" stroke="#333333" stroke-width="1.1"/>
<text x="235.11" y="659.8" font-size="10.65" fill="#4D4D4D" text-anchor="middle">2</text>
<line x1="249.86" x2="249.86" y1="645.4" y2="648.8" stroke="#333333" stroke-width="1.1"/>
<text x="249.86" y="659.8" font-size="10.65" fill="#4D4D4D" text-anchor="middle">3</text>
<line x1="264.62" x2="264.62" y1="645.4" y2="648.8" stroke="#333333" stroke-width="1.1"/>
<text x="264.62" y="659.8" font-size="10.65" fill="#4D4D4D" text-anchor="middle">4</text>
<line x1="279.37" x2="279.37" y1="645.4" y2="648.8" stroke="#333333" stroke-width="1.1"/>
<text x="279.37" y="659.8" font-size="10.65" fill="#4D4D4D" text-anchor="middle">5</text>
<line x1="294.13" x2="294.13" y1="645.4" y2="648.8" stroke="#333333" stroke-width="1.1"/>
<text x="294.13" y="659.8" font-size="10.65" fill="#4D4D4D" text-anchor="middle">6</text>
<line x1="308.88" x2="308.88" y1="645.4" y2="648.8" stroke="#333333" stroke-width="1.1"/>
<text x="308.88" y="659.8" font-size="10.65" fill="#4D4D4D" text-anchor="middle">7</text>
<line x1="323.64" x2="323.64" y1="645.4" y2="648.8" stroke="#333333" stroke-width="1.1"/>
<text x="323.64" y="659.8" font-size="10.65" fill="#4D4D4D" text-anchor="middle">8</text>
<line x1="338.39" x2="338.39" y1="645.4" y2="648.8" stroke="#333333" stroke-width="1.1"/>
<text x="338.39" y="659.8" font-size="10.65" fill="#4D4D4D" text-anchor="middle">9</text>
<line x1="353.15" x2="353.15" y1="645.4" y2="648.8" stroke="#333333" stroke-width="1.1"/>
<text x="353.15" y="659.8" font-size="10.65" fill="#4D4D4D" text-anchor="middle">10</text>
<line x1="369.5" x2="519.6" y1="598.99" y2="598.99" stroke="#EBEBEB" stroke-width="0.6"/><line x1="369.5" x2="519.6" y1="551.99" y2="551.99" stroke="#EBEBEB" stroke-width="0.6"/><line x1="369.5" x2="519.6" y1="622.49" y2="622.49" stroke="#EBEBEB" stroke-width="1.2"/><line x1="369.5" x2="519.6" y1="575.49" y2="575.49" stroke="#EBEBEB" stroke-width="1.2"/><line x1="369.5" x2="519.6" y1="528.49" y2="528.49" stroke="#EBEBEB" stroke-width="1.2"/><line x1="378.33" x2="378.33" y1="523.64" y2="645.4" stroke="#EBEBEB" stroke-width="1.2"/><line x1="393.05" x2="393.05" y1="523.64" y2="645.4" stroke="#EBEBEB" stroke-width="1.2"/><line x1="407.76" x2="407.76" y1="523.64" y2="645.4" stroke="#EBEBEB" stroke-width="1.2"/><line x1="422.48" x2="422.48" y1="523.64" y2="645.4" stroke="#EBEBEB" stroke-width="1.2"/><line x1="437.19" x2="437.19" y1="523.64" y2="645.4" stroke="#EBEBEB" stroke-width="1.2"/><line x1="451.91" x2="451.91" y1="523.64" y2="645.4" stroke="#EBEBEB" stroke-width="1.2"/><line x1="466.62" x2="466.62" y1="523.64" y2="645.4" stroke="#EBEBEB" stroke-width="1.2"/><line x1="481.34" x2="481.34" y1="523.64" y2="645.4" stroke="#EBEBEB" stroke-width="1.2"/><line x1="496.05" x2="496.05" y1="523.64" y2="645.4" stroke="#EBEBEB" stroke-width="1.2"/><line x1="510.77" x2="510.77" y1="523.64" y2="645.4" stroke="#EBEBEB" stroke-width="1.2"/>
<g fill="none" stroke-width="1.55"><path d="M400.43 559.6H405.23M402.83 559.6V564M400.43 564H405.23" stroke="#191970"/><path d="M405.36 550H410.16M407.76 550V556M405.36 556H410.16" stroke="#FFC125"/><path d="M410.29 567.6H415.09M412.69 567.6V579M410.29 579H415.09" stroke="#228B22"/><path d="M415.15 568H419.95M417.55 568V579.4M415.15 579.4H419.95" stroke="#191970"/><path d="M420.08 559.6H424.88M422.48 559.6V571.4M420.08 571.4H424.88" stroke="#FFC125"/><path d="M425.01 575.4H429.81M427.41 575.4V586M425.01 586H429.81" stroke="#228B22"/><path d="M429.86 572H434.66M432.26 572V582M429.86 582H434.66" stroke="#191970"/><path d="M434.79 563.6H439.59M437.19 563.6V573.4M434.79 573.4H439.59" stroke="#FFC125"/><path d="M439.72 576H444.52M442.12 576V585.4M439.72 585.4H444.52" stroke="#228B22"/><path d="M444.58 576H449.38M446.98 576V588M444.58 588H449.38" stroke="#191970"/><path d="M449.51 567H454.31M451.91 567V580M449.51 580H454.31" stroke="#FFC125"/><path d="M454.44 576H459.24M456.84 576V589M454.44 589H459.24" stroke="#228B22"/><path d="M459.29 580H464.09M461.69 580V588M459.29 588H464.09" stroke="#191970"/><path d="M464.22 571.4H469.02M466.62 571.4V580M464.22 580H469.02" stroke="#FFC125"/><path d="M469.15 578.6H473.95M471.55 578.6V587M469.15 587H473.95" stroke="#228B22"/><path d="M474.01 580.6H478.81M476.41 580.6V590M474.01 590H478.81" stroke="#191970"/><path d="M478.94 572.6H483.74M481.34 572.6V582M478.94 582H483.74" stroke="#FFC125"/><path d="M483.87 577H488.67M486.27 577V586.6M483.87 586.6H488.67" stroke="#228B22"/><path d="M488.72 584.6H493.52M491.12 584.6V595M488.72 595H493.52" stroke="#191970"/><path d="M493.65 576.6H498.45M496.05 576.6V587M493.65 587H498.45" stroke="#FFC125"/><path d="M498.58 578.6H503.38M500.98 578.6V589M498.58 589H503.38" stroke="#228B22"/></g>
<g><circle cx="402.83" cy="561.4" r="2.95" fill="#191970"/><circle cx="407.76" cy="553" r="2.95" fill="#FFC125"/><circle cx="412.69" cy="572.6" r="2.95" fill="#228B22"/><circle cx="417.55" cy="573" r="2.95" fill="#191970"/><circle cx="422.48" cy="564.6" r="2.95" fill="#FFC125"/><circle cx="427.41" cy="580" r="2.95" fill="#228B22"/><circle cx="432.26" cy="577" r="2.95" fill="#191970"/><circle cx="437.19" cy="568" r="2.95" fill="#FFC125"/><circle cx="442.12" cy="580.4" r="2.95" fill="#228B22"/><circle cx="446.98" cy="581.4" r="2.95" fill="#191970"/><circle cx="451.91" cy="572.6" r="2.95" fill="#FFC125"/><circle cx="456.84" cy="581.4" r="2.95" fill="#228B22"/><circle cx="461.69" cy="584" r="2.95" fill="#191970"/><circle cx="466.62" cy="575.4" r="2.95" fill="#FFC125"/><circle cx="471.55" cy="582.6" r="2.95" fill="#228B22"/><circle cx="476.41" cy="585" r="2.95" fill="#191970"/><circle cx="481.34" cy="576.6" r="2.95" fill="#FFC125"/><circle cx="486.27" cy="581.4" r="2.95" fill="#228B22"/><circle cx="491.12" cy="589" r="2.95" fill="#191970"/><circle cx="496.05" cy="580.6" r="2.95" fill="#FFC125"/><circle cx="500.98" cy="583.4" r="2.95" fill="#228B22"/></g>
<line x1="369.5" x2="519.6" y1="575.49" y2="575.49" stroke="#000000" stroke-opacity="0.78" stroke-width="1.55" stroke-dasharray="5.15 5.15"/>
<rect x="369.5" y="523.64" width="150.1" height="121.76" fill="none" stroke="#333333" stroke-width="1.1"/>
<rect x="369.5" y="503.5" width="150.1" height="20.14" fill="#D9D9D9" stroke="#333333" stroke-width="1.1"/>
<text x="444.55" y="517.24" font-size="10.65" fill="#1A1A1A" text-anchor="middle">Cluster 15</text>
<line x1="378.33" x2="378.33" y1="645.4" y2="648.8" stroke="#333333" stroke-width="1.1"/>
<text x="378.33" y="659.8" font-size="10.65" fill="#4D4D4D" text-anchor="middle">1</text>
<line x1="393.05" x2="393.05" y1="645.4" y2="648.8" stroke="#333333" stroke-width="1.1"/>
<text x="393.05" y="659.8" font-size="10.65" fill="#4D4D4D" text-anchor="middle">2</text>
<line x1="407.76" x2="407.76" y1="645.4" y2="648.8" stroke="#333333" stroke-width="1.1"/>
<text x="407.76" y="659.8" font-size="10.65" fill="#4D4D4D" text-anchor="middle">3</text>
<line x1="422.48" x2="422.48" y1="645.4" y2="648.8" stroke="#333333" stroke-width="1.1"/>
<text x="422.48" y="659.8" font-size="10.65" fill="#4D4D4D" text-anchor="middle">4</text>
<line x1="437.19" x2="437.19" y1="645.4" y2="648.8" stroke="#333333" stroke-width="1.1"/>
<text x="437.19" y="659.8" font-size="10.65" fill="#4D4D4D" text-anchor="middle">5</text>
<line x1="451.91" x2="451.91" y1="645.4" y2="648.8" stroke="#333333" stroke-width="1.1"/>
<text x="451.91" y="659.8" font-size="10.65" fill="#4D4D4D" text-anchor="middle">6</text>
<line x1="466.62" x2="466.62" y1="645.4" y2="648.8" stroke="#333333" stroke-width="1.1"/>
<text x="466.62" y="659.8" font-size="10.65" fill="#4D4D4D" text-anchor="middle">7</text>
<line x1="481.34" x2="481.34" y1="645.4" y2="648.8" stroke="#333333" stroke-width="1.1"/>
<text x="481.34" y="659.8" font-size="10.65" fill="#4D4D4D" text-anchor="middle">8</text>
<line x1="496.05" x2="496.05" y1="645.4" y2="648.8" stroke="#333333" stroke-width="1.1"/>
<text x="496.05" y="659.8" font-size="10.65" fill="#4D4D4D" text-anchor="middle">9</text>
<line x1="510.77" x2="510.77" y1="645.4" y2="648.8" stroke="#333333" stroke-width="1.1"/>
<text x="510.77" y="659.8" font-size="10.65" fill="#4D4D4D" text-anchor="middle">10</text>
<line x1="527" x2="677.3" y1="598.99" y2="598.99" stroke="#EBEBEB" stroke-width="0.6"/><line x1="527" x2="677.3" y1="551.99" y2="551.99" stroke="#EBEBEB" stroke-width="0.6"/><line x1="527" x2="677.3" y1="622.49" y2="622.49" stroke="#EBEBEB" stroke-width="1.2"/><line x1="527" x2="677.3" y1="575.49" y2="575.49" stroke="#EBEBEB" stroke-width="1.2"/><line x1="527" x2="677.3" y1="528.49" y2="528.49" stroke="#EBEBEB" stroke-width="1.2"/><line x1="535.84" x2="535.84" y1="523.64" y2="645.4" stroke="#EBEBEB" stroke-width="1.2"/><line x1="550.58" x2="550.58" y1="523.64" y2="645.4" stroke="#EBEBEB" stroke-width="1.2"/><line x1="565.31" x2="565.31" y1="523.64" y2="645.4" stroke="#EBEBEB" stroke-width="1.2"/><line x1="580.05" x2="580.05" y1="523.64" y2="645.4" stroke="#EBEBEB" stroke-width="1.2"/><line x1="594.78" x2="594.78" y1="523.64" y2="645.4" stroke="#EBEBEB" stroke-width="1.2"/><line x1="609.52" x2="609.52" y1="523.64" y2="645.4" stroke="#EBEBEB" stroke-width="1.2"/><line x1="624.25" x2="624.25" y1="523.64" y2="645.4" stroke="#EBEBEB" stroke-width="1.2"/><line x1="638.99" x2="638.99" y1="523.64" y2="645.4" stroke="#EBEBEB" stroke-width="1.2"/><line x1="653.72" x2="653.72" y1="523.64" y2="645.4" stroke="#EBEBEB" stroke-width="1.2"/><line x1="668.46" x2="668.46" y1="523.64" y2="645.4" stroke="#EBEBEB" stroke-width="1.2"/>
<g fill="none" stroke-width="1.55"><path d="M543.25 554.6H548.05M545.65 554.6V571.4M543.25 571.4H548.05" stroke="#191970"/><path d="M548.18 543H552.98M550.58 543V560M548.18 560H552.98" stroke="#FFC125"/><path d="M553.11 571.6H557.91M555.51 571.6V586.4M553.11 586.4H557.91" stroke="#228B22"/><path d="M557.98 563.4H562.78M560.38 563.4V580M557.98 580H562.78" stroke="#191970"/><path d="M562.91 551.6H567.71M565.31 551.6V568.6M562.91 568.6H567.71" stroke="#FFC125"/><path d="M567.84 573H572.64M570.24 573V589.4M567.84 589.4H572.64" stroke="#228B22"/><path d="M572.72 570H577.52M575.12 570V587.4M572.72 587.4H577.52" stroke="#191970"/><path d="M577.65 558.6H582.45M580.05 558.6V575M577.65 575H582.45" stroke="#FFC125"/><path d="M582.58 575H587.38M584.98 575V592M582.58 592H587.38" stroke="#228B22"/><path d="M587.45 573.4H592.25M589.85 573.4V588M587.45 588H592.25" stroke="#191970"/><path d="M592.38 562H597.18M594.78 562V576M592.38 576H597.18" stroke="#FFC125"/><path d="M597.31 575.4H602.11M599.71 575.4V589M597.31 589H602.11" stroke="#228B22"/><path d="M602.19 578H606.99M604.59 578V592M602.19 592H606.99" stroke="#191970"/><path d="M607.12 566.4H611.92M609.52 566.4V580M607.12 580H611.92" stroke="#FFC125"/><path d="M612.05 576.4H616.85M614.45 576.4V590M612.05 590H616.85" stroke="#228B22"/><path d="M616.92 582H621.72M619.32 582V597M616.92 597H621.72" stroke="#191970"/><path d="M621.85 570.6H626.65M624.25 570.6V586M621.85 586H626.65" stroke="#FFC125"/><path d="M626.78 578H631.58M629.18 578V593M626.78 593H631.58" stroke="#228B22"/><path d="M631.66 587H636.46M634.06 587V602.6M631.66 602.6H636.46" stroke="#191970"/><path d="M636.59 575H641.39M638.99 575V591M636.59 591H641.39" stroke="#FFC125"/><path d="M641.52 580.6H646.32M643.92 580.6V596M641.52 596H646.32" stroke="#228B22"/><path d="M646.39 590.4H651.19M648.79 590.4V605M646.39 605H651.19" stroke="#191970"/><path d="M651.32 578.6H656.12M653.72 578.6V594M651.32 594H656.12" stroke="#FFC125"/><path d="M656.25 581.4H661.05M658.65 581.4V597M656.25 597H661.05" stroke="#228B22"/><path d="M661.13 591.4H665.93M663.53 591.4V610M661.13 610H665.93" stroke="#191970"/><path d="M666.06 579.4H670.86M668.46 579.4V599M666.06 599H670.86" stroke="#FFC125"/><path d="M670.99 581.4H675.79M673.39 581.4V600M670.99 600H675.79" stroke="#228B22"/></g>
<g><circle cx="545.65" cy="561.4" r="2.95" fill="#191970"/><circle cx="550.58" cy="550" r="2.95" fill="#FFC125"/><circle cx="555.51" cy="577.6" r="2.95" fill="#228B22"/><circle cx="560.38" cy="570.4" r="2.95" fill="#191970"/><circle cx="565.31" cy="558.4" r="2.95" fill="#FFC125"/><circle cx="570.24" cy="579.4" r="2.95" fill="#228B22"/><circle cx="575.12" cy="577" r="2.95" fill="#191970"/><circle cx="580.05" cy="565.4" r="2.95" fill="#FFC125"/><circle cx="584.98" cy="582" r="2.95" fill="#228B22"/><circle cx="589.85" cy="579.4" r="2.95" fill="#191970"/><circle cx="594.78" cy="568" r="2.95" fill="#FFC125"/><circle cx="599.71" cy="581" r="2.95" fill="#228B22"/><circle cx="604.59" cy="583.4" r="2.95" fill="#191970"/><circle cx="609.52" cy="572" r="2.95" fill="#FFC125"/><circle cx="614.45" cy="582" r="2.95" fill="#228B22"/><circle cx="619.32" cy="588" r="2.95" fill="#191970"/><circle cx="624.25" cy="577" r="2.95" fill="#FFC125"/><circle cx="629.18" cy="584" r="2.95" fill="#228B22"/><circle cx="634.06" cy="593.4" r="2.95" fill="#191970"/><circle cx="638.99" cy="581.4" r="2.95" fill="#FFC125"/><circle cx="643.92" cy="587" r="2.95" fill="#228B22"/><circle cx="648.79" cy="596.4" r="2.95" fill="#191970"/><circle cx="653.72" cy="584.6" r="2.95" fill="#FFC125"/><circle cx="658.65" cy="588" r="2.95" fill="#228B22"/><circle cx="663.53" cy="598.6" r="2.95" fill="#191970"/><circle cx="668.46" cy="587" r="2.95" fill="#FFC125"/><circle cx="673.39" cy="588.4" r="2.95" fill="#228B22"/></g>
<line x1="527" x2="677.3" y1="575.49" y2="575.49" stroke="#000000" stroke-opacity="0.78" stroke-width="1.55" stroke-dasharray="5.15 5.15"/>
<rect x="527" y="523.64" width="150.3" height="121.76" fill="none" stroke="#333333" stroke-width="1.1"/>
<rect x="527" y="503.5" width="150.3" height="20.14" fill="#D9D9D9" stroke="#333333" stroke-width="1.1"/>
<text x="602.15" y="517.24" font-size="10.65" fill="#1A1A1A" text-anchor="middle">Cluster 16</text>
<line x1="535.84" x2="535.84" y1="645.4" y2="648.8" stroke="#333333" stroke-width="1.1"/>
<text x="535.84" y="659.8" font-size="10.65" fill="#4D4D4D" text-anchor="middle">1</text>
<line x1="550.58" x2="550.58" y1="645.4" y2="648.8" stroke="#333333" stroke-width="1.1"/>
<text x="550.58" y="659.8" font-size="10.65" fill="#4D4D4D" text-anchor="middle">2</text>
<line x1="565.31" x2="565.31" y1="645.4" y2="648.8" stroke="#333333" stroke-width="1.1"/>
<text x="565.31" y="659.8" font-size="10.65" fill="#4D4D4D" text-anchor="middle">3</text>
<line x1="580.05" x2="580.05" y1="645.4" y2="648.8" stroke="#333333" stroke-width="1.1"/>
<text x="580.05" y="659.8" font-size="10.65" fill="#4D4D4D" text-anchor="middle">4</text>
<line x1="594.78" x2="594.78" y1="645.4" y2="648.8" stroke="#333333" stroke-width="1.1"/>
<text x="594.78" y="659.8" font-size="10.65" fill="#4D4D4D" text-anchor="middle">5</text>
<line x1="609.52" x2="609.52" y1="645.4" y2="648.8" stroke="#333333" stroke-width="1.1"/>
<text x="609.52" y="659.8" font-size="10.65" fill="#4D4D4D" text-anchor="middle">6</text>
<line x1="624.25" x2="624.25" y1="645.4" y2="648.8" stroke="#333333" stroke-width="1.1"/>
<text x="624.25" y="659.8" font-size="10.65" fill="#4D4D4D" text-anchor="middle">7</text>
<line x1="638.99" x2="638.99" y1="645.4" y2="648.8" stroke="#333333" stroke-width="1.1"/>
<text x="638.99" y="659.8" font-size="10.65" fill="#4D4D4D" text-anchor="middle">8</text>
<line x1="653.72" x2="653.72" y1="645.4" y2="648.8" stroke="#333333" stroke-width="1.1"/>
<text x="653.72" y="659.8" font-size="10.65" fill="#4D4D4D" text-anchor="middle">9</text>
<line x1="668.46" x2="668.46" y1="645.4" y2="648.8" stroke="#333333" stroke-width="1.1"/>
<text x="668.46" y="659.8" font-size="10.65" fill="#4D4D4D" text-anchor="middle">10</text>
<text x="365.4" y="674.4" font-size="13.2" fill="#000" text-anchor="middle">Clay + silt bins / 10 %</text>
<text transform="translate(17.3 360) rotate(-90)" font-size="13.2" fill="#000" text-anchor="middle">MAOC saturation / %</text>
<text x="229.6" y="28.9" font-size="13.2" fill="#000">Regression method</text>
<line x1="353.1" x2="369.8" y1="24.5" y2="24.5" stroke="#191970" stroke-width="1.45"/>
<circle cx="361.45" cy="24.5" r="2.8" fill="#191970"/>
<text x="378.6" y="28.2" font-size="10.65" fill="#000">BL</text>
<line x1="400.8" x2="417.5" y1="24.5" y2="24.5" stroke="#FFC125" stroke-width="1.45"/>
<circle cx="409.15" cy="24.5" r="2.8" fill="#FFC125"/>
<text x="426.2" y="28.2" font-size="10.65" fill="#000">PBL</text>
<line x1="455" x2="471.7" y1="24.5" y2="24.5" stroke="#228B22" stroke-width="1.45"/>
<circle cx="463.35" cy="24.5" r="2.8" fill="#228B22"/>
<text x="480.6" y="28.2" font-size="10.65" fill="#000">NBL</text>
</svg>
</body></html>
